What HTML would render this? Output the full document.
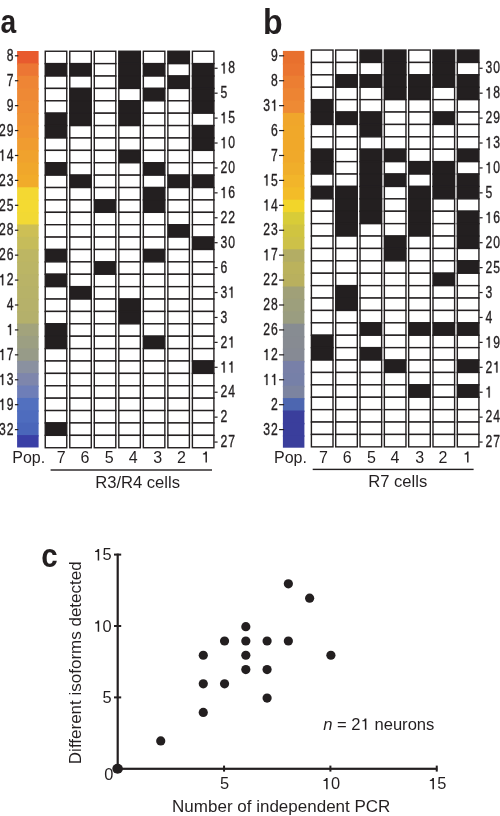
<!DOCTYPE html>
<html><head><meta charset="utf-8"><style>
html,body{margin:0;padding:0;background:#fff;}
body{width:500px;height:816px;overflow:hidden;}
svg{display:block;transform:translateZ(0);}
text{font-family:"Liberation Sans",sans-serif;fill:#231f20;}
.lab{font-size:16px;stroke:#231f20;stroke-width:0.35px;}
.lab2{font-size:16px;}
.lab3{font-size:16.6px;}
.ax{font-size:16.4px;}
.at{font-size:17px;}
.nn{font-size:16.6px;}
.pl{font-size:33.2px;font-weight:bold;}
</style></head><body>
<svg width="500" height="816" viewBox="0 0 500 816">
<text class="pl" transform="translate(0.4,33.4) scale(0.85,1)">a</text>
<text class="pl" style="font-size:34.6px" transform="translate(263.0,33.5) scale(0.93,1)">b</text>
<rect x="17.1" y="51.00" width="21.5" height="13.89" fill="#E85A2E"/>
<rect x="17.1" y="63.39" width="21.5" height="13.89" fill="#EC7634"/>
<rect x="17.1" y="75.78" width="21.5" height="13.89" fill="#EE8535"/>
<rect x="17.1" y="88.17" width="21.5" height="13.89" fill="#EE8935"/>
<rect x="17.1" y="100.56" width="21.5" height="13.89" fill="#EF8D34"/>
<rect x="17.1" y="112.95" width="21.5" height="13.89" fill="#EF9133"/>
<rect x="17.1" y="125.34" width="21.5" height="13.89" fill="#F09532"/>
<rect x="17.1" y="137.73" width="21.5" height="13.89" fill="#F09C30"/>
<rect x="17.1" y="150.12" width="21.5" height="13.89" fill="#F0A22D"/>
<rect x="17.1" y="162.51" width="21.5" height="13.89" fill="#F0A72B"/>
<rect x="17.1" y="174.90" width="21.5" height="13.89" fill="#F1AB2A"/>
<rect x="17.1" y="187.29" width="21.5" height="13.89" fill="#F4D832"/>
<rect x="17.1" y="199.68" width="21.5" height="13.89" fill="#F4DA32"/>
<rect x="17.1" y="212.07" width="21.5" height="13.89" fill="#F2D934"/>
<rect x="17.1" y="224.46" width="21.5" height="13.89" fill="#CDBF55"/>
<rect x="17.1" y="236.85" width="21.5" height="13.89" fill="#C6BC5A"/>
<rect x="17.1" y="249.24" width="21.5" height="13.89" fill="#BDB663"/>
<rect x="17.1" y="261.63" width="21.5" height="13.89" fill="#BBB565"/>
<rect x="17.1" y="274.02" width="21.5" height="13.89" fill="#B9B367"/>
<rect x="17.1" y="286.41" width="21.5" height="13.89" fill="#B7B268"/>
<rect x="17.1" y="298.80" width="21.5" height="13.89" fill="#B6B16A"/>
<rect x="17.1" y="311.19" width="21.5" height="13.89" fill="#B4B06B"/>
<rect x="17.1" y="323.58" width="21.5" height="13.89" fill="#A2A37C"/>
<rect x="17.1" y="335.97" width="21.5" height="13.89" fill="#9C9F82"/>
<rect x="17.1" y="348.36" width="21.5" height="13.89" fill="#979B88"/>
<rect x="17.1" y="360.75" width="21.5" height="13.89" fill="#8A91A0"/>
<rect x="17.1" y="373.14" width="21.5" height="13.89" fill="#7E86AC"/>
<rect x="17.1" y="385.53" width="21.5" height="13.89" fill="#6E7EB8"/>
<rect x="17.1" y="397.92" width="21.5" height="13.89" fill="#5270BF"/>
<rect x="17.1" y="410.31" width="21.5" height="13.89" fill="#4E6CBE"/>
<rect x="17.1" y="422.70" width="21.5" height="13.89" fill="#4A66BA"/>
<rect x="17.1" y="435.09" width="21.5" height="12.39" fill="#3A3FA6"/>
<rect x="14.90" y="55.20" width="3.40" height="1.2" fill="#231f20"/>
<g transform="translate(13.50,61.00) scale(0.76,1)"><text class="lab" x="-8.90" y="0" xml:space="preserve">8</text></g>
<rect x="14.90" y="80.12" width="3.40" height="1.2" fill="#231f20"/>
<g transform="translate(13.50,85.92) scale(0.76,1)"><text class="lab" x="-8.90" y="0" xml:space="preserve">7</text></g>
<rect x="14.90" y="105.04" width="3.40" height="1.2" fill="#231f20"/>
<g transform="translate(13.50,110.84) scale(0.76,1)"><text class="lab" x="-8.90" y="0" xml:space="preserve">9</text></g>
<rect x="14.90" y="129.96" width="3.40" height="1.2" fill="#231f20"/>
<g transform="translate(13.50,135.76) scale(0.76,1)"><text class="lab" x="-19.11" y="0" xml:space="preserve">2</text><text class="lab" x="-8.90" y="0" xml:space="preserve">9</text></g>
<rect x="14.90" y="154.88" width="3.40" height="1.2" fill="#231f20"/>
<g transform="translate(13.50,160.68) scale(0.76,1)"><path d="M 714 0 L 530 0 L 530 1040 L 200 1040 L 200 1160 C 370 1170 490 1250 520 1409 L 714 1409 Z" fill="#231f20" stroke="#231f20" stroke-width="0.35" vector-effect="non-scaling-stroke" transform="translate(-19.113,0) scale(0.007812,-0.007812)"/><text class="lab" x="-8.90" y="0" xml:space="preserve">4</text></g>
<rect x="14.90" y="179.80" width="3.40" height="1.2" fill="#231f20"/>
<g transform="translate(13.50,185.60) scale(0.76,1)"><text class="lab" x="-19.11" y="0" xml:space="preserve">2</text><text class="lab" x="-8.90" y="0" xml:space="preserve">3</text></g>
<rect x="14.90" y="204.72" width="3.40" height="1.2" fill="#231f20"/>
<g transform="translate(13.50,210.52) scale(0.76,1)"><text class="lab" x="-19.11" y="0" xml:space="preserve">2</text><text class="lab" x="-8.90" y="0" xml:space="preserve">5</text></g>
<rect x="14.90" y="229.64" width="3.40" height="1.2" fill="#231f20"/>
<g transform="translate(13.50,235.44) scale(0.76,1)"><text class="lab" x="-19.11" y="0" xml:space="preserve">2</text><text class="lab" x="-8.90" y="0" xml:space="preserve">8</text></g>
<rect x="14.90" y="254.56" width="3.40" height="1.2" fill="#231f20"/>
<g transform="translate(13.50,260.36) scale(0.76,1)"><text class="lab" x="-19.11" y="0" xml:space="preserve">2</text><text class="lab" x="-8.90" y="0" xml:space="preserve">6</text></g>
<rect x="14.90" y="279.48" width="3.40" height="1.2" fill="#231f20"/>
<g transform="translate(13.50,285.28) scale(0.76,1)"><path d="M 714 0 L 530 0 L 530 1040 L 200 1040 L 200 1160 C 370 1170 490 1250 520 1409 L 714 1409 Z" fill="#231f20" stroke="#231f20" stroke-width="0.35" vector-effect="non-scaling-stroke" transform="translate(-19.113,0) scale(0.007812,-0.007812)"/><text class="lab" x="-8.90" y="0" xml:space="preserve">2</text></g>
<rect x="14.90" y="304.40" width="3.40" height="1.2" fill="#231f20"/>
<g transform="translate(13.50,310.20) scale(0.76,1)"><text class="lab" x="-8.90" y="0" xml:space="preserve">4</text></g>
<rect x="14.90" y="329.32" width="3.40" height="1.2" fill="#231f20"/>
<g transform="translate(13.50,335.12) scale(0.76,1)"><path d="M 714 0 L 530 0 L 530 1040 L 200 1040 L 200 1160 C 370 1170 490 1250 520 1409 L 714 1409 Z" fill="#231f20" stroke="#231f20" stroke-width="0.35" vector-effect="non-scaling-stroke" transform="translate(-8.898,0) scale(0.007812,-0.007812)"/></g>
<rect x="14.90" y="354.24" width="3.40" height="1.2" fill="#231f20"/>
<g transform="translate(13.50,360.04) scale(0.76,1)"><path d="M 714 0 L 530 0 L 530 1040 L 200 1040 L 200 1160 C 370 1170 490 1250 520 1409 L 714 1409 Z" fill="#231f20" stroke="#231f20" stroke-width="0.35" vector-effect="non-scaling-stroke" transform="translate(-19.113,0) scale(0.007812,-0.007812)"/><text class="lab" x="-8.90" y="0" xml:space="preserve">7</text></g>
<rect x="14.90" y="379.16" width="3.40" height="1.2" fill="#231f20"/>
<g transform="translate(13.50,384.96) scale(0.76,1)"><path d="M 714 0 L 530 0 L 530 1040 L 200 1040 L 200 1160 C 370 1170 490 1250 520 1409 L 714 1409 Z" fill="#231f20" stroke="#231f20" stroke-width="0.35" vector-effect="non-scaling-stroke" transform="translate(-19.113,0) scale(0.007812,-0.007812)"/><text class="lab" x="-8.90" y="0" xml:space="preserve">3</text></g>
<rect x="14.90" y="404.08" width="3.40" height="1.2" fill="#231f20"/>
<g transform="translate(13.50,409.88) scale(0.76,1)"><path d="M 714 0 L 530 0 L 530 1040 L 200 1040 L 200 1160 C 370 1170 490 1250 520 1409 L 714 1409 Z" fill="#231f20" stroke="#231f20" stroke-width="0.35" vector-effect="non-scaling-stroke" transform="translate(-19.113,0) scale(0.007812,-0.007812)"/><text class="lab" x="-8.90" y="0" xml:space="preserve">9</text></g>
<rect x="14.90" y="429.00" width="3.40" height="1.2" fill="#231f20"/>
<g transform="translate(13.50,434.80) scale(0.76,1)"><text class="lab" x="-19.11" y="0" xml:space="preserve">3</text><text class="lab" x="-8.90" y="0" xml:space="preserve">2</text></g>
<rect x="45.25" y="51.25" width="21.50" height="12.390" fill="#fff" stroke="#231f20" stroke-width="1.4"/>
<rect x="45.25" y="63.64" width="21.50" height="12.390" fill="#231f20" stroke="#231f20" stroke-width="1.4"/>
<rect x="45.25" y="76.03" width="21.50" height="12.390" fill="#fff" stroke="#231f20" stroke-width="1.4"/>
<rect x="45.25" y="88.42" width="21.50" height="12.390" fill="#fff" stroke="#231f20" stroke-width="1.4"/>
<rect x="45.25" y="100.81" width="21.50" height="12.390" fill="#fff" stroke="#231f20" stroke-width="1.4"/>
<rect x="45.25" y="113.20" width="21.50" height="12.390" fill="#231f20" stroke="#231f20" stroke-width="1.4"/>
<rect x="45.25" y="125.59" width="21.50" height="12.390" fill="#231f20" stroke="#231f20" stroke-width="1.4"/>
<rect x="45.25" y="137.98" width="21.50" height="12.390" fill="#fff" stroke="#231f20" stroke-width="1.4"/>
<rect x="45.25" y="150.37" width="21.50" height="12.390" fill="#fff" stroke="#231f20" stroke-width="1.4"/>
<rect x="45.25" y="162.76" width="21.50" height="12.390" fill="#231f20" stroke="#231f20" stroke-width="1.4"/>
<rect x="45.25" y="175.15" width="21.50" height="12.390" fill="#fff" stroke="#231f20" stroke-width="1.4"/>
<rect x="45.25" y="187.54" width="21.50" height="12.390" fill="#fff" stroke="#231f20" stroke-width="1.4"/>
<rect x="45.25" y="199.93" width="21.50" height="12.390" fill="#fff" stroke="#231f20" stroke-width="1.4"/>
<rect x="45.25" y="212.32" width="21.50" height="12.390" fill="#fff" stroke="#231f20" stroke-width="1.4"/>
<rect x="45.25" y="224.71" width="21.50" height="12.390" fill="#fff" stroke="#231f20" stroke-width="1.4"/>
<rect x="45.25" y="237.10" width="21.50" height="12.390" fill="#fff" stroke="#231f20" stroke-width="1.4"/>
<rect x="45.25" y="249.49" width="21.50" height="12.390" fill="#231f20" stroke="#231f20" stroke-width="1.4"/>
<rect x="45.25" y="261.88" width="21.50" height="12.390" fill="#fff" stroke="#231f20" stroke-width="1.4"/>
<rect x="45.25" y="274.27" width="21.50" height="12.390" fill="#231f20" stroke="#231f20" stroke-width="1.4"/>
<rect x="45.25" y="286.66" width="21.50" height="12.390" fill="#fff" stroke="#231f20" stroke-width="1.4"/>
<rect x="45.25" y="299.05" width="21.50" height="12.390" fill="#fff" stroke="#231f20" stroke-width="1.4"/>
<rect x="45.25" y="311.44" width="21.50" height="12.390" fill="#fff" stroke="#231f20" stroke-width="1.4"/>
<rect x="45.25" y="323.83" width="21.50" height="12.390" fill="#231f20" stroke="#231f20" stroke-width="1.4"/>
<rect x="45.25" y="336.22" width="21.50" height="12.390" fill="#231f20" stroke="#231f20" stroke-width="1.4"/>
<rect x="45.25" y="348.61" width="21.50" height="12.390" fill="#fff" stroke="#231f20" stroke-width="1.4"/>
<rect x="45.25" y="361.00" width="21.50" height="12.390" fill="#fff" stroke="#231f20" stroke-width="1.4"/>
<rect x="45.25" y="373.39" width="21.50" height="12.390" fill="#fff" stroke="#231f20" stroke-width="1.4"/>
<rect x="45.25" y="385.78" width="21.50" height="12.390" fill="#fff" stroke="#231f20" stroke-width="1.4"/>
<rect x="45.25" y="398.17" width="21.50" height="12.390" fill="#fff" stroke="#231f20" stroke-width="1.4"/>
<rect x="45.25" y="410.56" width="21.50" height="12.390" fill="#fff" stroke="#231f20" stroke-width="1.4"/>
<rect x="45.25" y="422.95" width="21.50" height="12.390" fill="#231f20" stroke="#231f20" stroke-width="1.4"/>
<rect x="45.25" y="435.34" width="21.50" height="12.390" fill="#fff" stroke="#231f20" stroke-width="1.4"/>
<rect x="69.78" y="51.25" width="21.50" height="12.390" fill="#fff" stroke="#231f20" stroke-width="1.4"/>
<rect x="69.78" y="63.64" width="21.50" height="12.390" fill="#231f20" stroke="#231f20" stroke-width="1.4"/>
<rect x="69.78" y="76.03" width="21.50" height="12.390" fill="#fff" stroke="#231f20" stroke-width="1.4"/>
<rect x="69.78" y="88.42" width="21.50" height="12.390" fill="#231f20" stroke="#231f20" stroke-width="1.4"/>
<rect x="69.78" y="100.81" width="21.50" height="12.390" fill="#231f20" stroke="#231f20" stroke-width="1.4"/>
<rect x="69.78" y="113.20" width="21.50" height="12.390" fill="#231f20" stroke="#231f20" stroke-width="1.4"/>
<rect x="69.78" y="125.59" width="21.50" height="12.390" fill="#fff" stroke="#231f20" stroke-width="1.4"/>
<rect x="69.78" y="137.98" width="21.50" height="12.390" fill="#fff" stroke="#231f20" stroke-width="1.4"/>
<rect x="69.78" y="150.37" width="21.50" height="12.390" fill="#fff" stroke="#231f20" stroke-width="1.4"/>
<rect x="69.78" y="162.76" width="21.50" height="12.390" fill="#fff" stroke="#231f20" stroke-width="1.4"/>
<rect x="69.78" y="175.15" width="21.50" height="12.390" fill="#231f20" stroke="#231f20" stroke-width="1.4"/>
<rect x="69.78" y="187.54" width="21.50" height="12.390" fill="#fff" stroke="#231f20" stroke-width="1.4"/>
<rect x="69.78" y="199.93" width="21.50" height="12.390" fill="#fff" stroke="#231f20" stroke-width="1.4"/>
<rect x="69.78" y="212.32" width="21.50" height="12.390" fill="#fff" stroke="#231f20" stroke-width="1.4"/>
<rect x="69.78" y="224.71" width="21.50" height="12.390" fill="#fff" stroke="#231f20" stroke-width="1.4"/>
<rect x="69.78" y="237.10" width="21.50" height="12.390" fill="#fff" stroke="#231f20" stroke-width="1.4"/>
<rect x="69.78" y="249.49" width="21.50" height="12.390" fill="#fff" stroke="#231f20" stroke-width="1.4"/>
<rect x="69.78" y="261.88" width="21.50" height="12.390" fill="#fff" stroke="#231f20" stroke-width="1.4"/>
<rect x="69.78" y="274.27" width="21.50" height="12.390" fill="#fff" stroke="#231f20" stroke-width="1.4"/>
<rect x="69.78" y="286.66" width="21.50" height="12.390" fill="#231f20" stroke="#231f20" stroke-width="1.4"/>
<rect x="69.78" y="299.05" width="21.50" height="12.390" fill="#fff" stroke="#231f20" stroke-width="1.4"/>
<rect x="69.78" y="311.44" width="21.50" height="12.390" fill="#fff" stroke="#231f20" stroke-width="1.4"/>
<rect x="69.78" y="323.83" width="21.50" height="12.390" fill="#fff" stroke="#231f20" stroke-width="1.4"/>
<rect x="69.78" y="336.22" width="21.50" height="12.390" fill="#fff" stroke="#231f20" stroke-width="1.4"/>
<rect x="69.78" y="348.61" width="21.50" height="12.390" fill="#fff" stroke="#231f20" stroke-width="1.4"/>
<rect x="69.78" y="361.00" width="21.50" height="12.390" fill="#fff" stroke="#231f20" stroke-width="1.4"/>
<rect x="69.78" y="373.39" width="21.50" height="12.390" fill="#fff" stroke="#231f20" stroke-width="1.4"/>
<rect x="69.78" y="385.78" width="21.50" height="12.390" fill="#fff" stroke="#231f20" stroke-width="1.4"/>
<rect x="69.78" y="398.17" width="21.50" height="12.390" fill="#fff" stroke="#231f20" stroke-width="1.4"/>
<rect x="69.78" y="410.56" width="21.50" height="12.390" fill="#fff" stroke="#231f20" stroke-width="1.4"/>
<rect x="69.78" y="422.95" width="21.50" height="12.390" fill="#fff" stroke="#231f20" stroke-width="1.4"/>
<rect x="69.78" y="435.34" width="21.50" height="12.390" fill="#fff" stroke="#231f20" stroke-width="1.4"/>
<rect x="94.30" y="51.25" width="21.50" height="12.390" fill="#fff" stroke="#231f20" stroke-width="1.4"/>
<rect x="94.30" y="63.64" width="21.50" height="12.390" fill="#fff" stroke="#231f20" stroke-width="1.4"/>
<rect x="94.30" y="76.03" width="21.50" height="12.390" fill="#fff" stroke="#231f20" stroke-width="1.4"/>
<rect x="94.30" y="88.42" width="21.50" height="12.390" fill="#fff" stroke="#231f20" stroke-width="1.4"/>
<rect x="94.30" y="100.81" width="21.50" height="12.390" fill="#fff" stroke="#231f20" stroke-width="1.4"/>
<rect x="94.30" y="113.20" width="21.50" height="12.390" fill="#fff" stroke="#231f20" stroke-width="1.4"/>
<rect x="94.30" y="125.59" width="21.50" height="12.390" fill="#fff" stroke="#231f20" stroke-width="1.4"/>
<rect x="94.30" y="137.98" width="21.50" height="12.390" fill="#fff" stroke="#231f20" stroke-width="1.4"/>
<rect x="94.30" y="150.37" width="21.50" height="12.390" fill="#fff" stroke="#231f20" stroke-width="1.4"/>
<rect x="94.30" y="162.76" width="21.50" height="12.390" fill="#fff" stroke="#231f20" stroke-width="1.4"/>
<rect x="94.30" y="175.15" width="21.50" height="12.390" fill="#fff" stroke="#231f20" stroke-width="1.4"/>
<rect x="94.30" y="187.54" width="21.50" height="12.390" fill="#fff" stroke="#231f20" stroke-width="1.4"/>
<rect x="94.30" y="199.93" width="21.50" height="12.390" fill="#231f20" stroke="#231f20" stroke-width="1.4"/>
<rect x="94.30" y="212.32" width="21.50" height="12.390" fill="#fff" stroke="#231f20" stroke-width="1.4"/>
<rect x="94.30" y="224.71" width="21.50" height="12.390" fill="#fff" stroke="#231f20" stroke-width="1.4"/>
<rect x="94.30" y="237.10" width="21.50" height="12.390" fill="#fff" stroke="#231f20" stroke-width="1.4"/>
<rect x="94.30" y="249.49" width="21.50" height="12.390" fill="#fff" stroke="#231f20" stroke-width="1.4"/>
<rect x="94.30" y="261.88" width="21.50" height="12.390" fill="#231f20" stroke="#231f20" stroke-width="1.4"/>
<rect x="94.30" y="274.27" width="21.50" height="12.390" fill="#fff" stroke="#231f20" stroke-width="1.4"/>
<rect x="94.30" y="286.66" width="21.50" height="12.390" fill="#fff" stroke="#231f20" stroke-width="1.4"/>
<rect x="94.30" y="299.05" width="21.50" height="12.390" fill="#fff" stroke="#231f20" stroke-width="1.4"/>
<rect x="94.30" y="311.44" width="21.50" height="12.390" fill="#fff" stroke="#231f20" stroke-width="1.4"/>
<rect x="94.30" y="323.83" width="21.50" height="12.390" fill="#fff" stroke="#231f20" stroke-width="1.4"/>
<rect x="94.30" y="336.22" width="21.50" height="12.390" fill="#fff" stroke="#231f20" stroke-width="1.4"/>
<rect x="94.30" y="348.61" width="21.50" height="12.390" fill="#fff" stroke="#231f20" stroke-width="1.4"/>
<rect x="94.30" y="361.00" width="21.50" height="12.390" fill="#fff" stroke="#231f20" stroke-width="1.4"/>
<rect x="94.30" y="373.39" width="21.50" height="12.390" fill="#fff" stroke="#231f20" stroke-width="1.4"/>
<rect x="94.30" y="385.78" width="21.50" height="12.390" fill="#fff" stroke="#231f20" stroke-width="1.4"/>
<rect x="94.30" y="398.17" width="21.50" height="12.390" fill="#fff" stroke="#231f20" stroke-width="1.4"/>
<rect x="94.30" y="410.56" width="21.50" height="12.390" fill="#fff" stroke="#231f20" stroke-width="1.4"/>
<rect x="94.30" y="422.95" width="21.50" height="12.390" fill="#fff" stroke="#231f20" stroke-width="1.4"/>
<rect x="94.30" y="435.34" width="21.50" height="12.390" fill="#fff" stroke="#231f20" stroke-width="1.4"/>
<rect x="118.82" y="51.25" width="21.50" height="12.390" fill="#231f20" stroke="#231f20" stroke-width="1.4"/>
<rect x="118.82" y="63.64" width="21.50" height="12.390" fill="#231f20" stroke="#231f20" stroke-width="1.4"/>
<rect x="118.82" y="76.03" width="21.50" height="12.390" fill="#231f20" stroke="#231f20" stroke-width="1.4"/>
<rect x="118.82" y="88.42" width="21.50" height="12.390" fill="#fff" stroke="#231f20" stroke-width="1.4"/>
<rect x="118.82" y="100.81" width="21.50" height="12.390" fill="#231f20" stroke="#231f20" stroke-width="1.4"/>
<rect x="118.82" y="113.20" width="21.50" height="12.390" fill="#231f20" stroke="#231f20" stroke-width="1.4"/>
<rect x="118.82" y="125.59" width="21.50" height="12.390" fill="#fff" stroke="#231f20" stroke-width="1.4"/>
<rect x="118.82" y="137.98" width="21.50" height="12.390" fill="#fff" stroke="#231f20" stroke-width="1.4"/>
<rect x="118.82" y="150.37" width="21.50" height="12.390" fill="#231f20" stroke="#231f20" stroke-width="1.4"/>
<rect x="118.82" y="162.76" width="21.50" height="12.390" fill="#fff" stroke="#231f20" stroke-width="1.4"/>
<rect x="118.82" y="175.15" width="21.50" height="12.390" fill="#fff" stroke="#231f20" stroke-width="1.4"/>
<rect x="118.82" y="187.54" width="21.50" height="12.390" fill="#fff" stroke="#231f20" stroke-width="1.4"/>
<rect x="118.82" y="199.93" width="21.50" height="12.390" fill="#fff" stroke="#231f20" stroke-width="1.4"/>
<rect x="118.82" y="212.32" width="21.50" height="12.390" fill="#fff" stroke="#231f20" stroke-width="1.4"/>
<rect x="118.82" y="224.71" width="21.50" height="12.390" fill="#fff" stroke="#231f20" stroke-width="1.4"/>
<rect x="118.82" y="237.10" width="21.50" height="12.390" fill="#fff" stroke="#231f20" stroke-width="1.4"/>
<rect x="118.82" y="249.49" width="21.50" height="12.390" fill="#fff" stroke="#231f20" stroke-width="1.4"/>
<rect x="118.82" y="261.88" width="21.50" height="12.390" fill="#fff" stroke="#231f20" stroke-width="1.4"/>
<rect x="118.82" y="274.27" width="21.50" height="12.390" fill="#fff" stroke="#231f20" stroke-width="1.4"/>
<rect x="118.82" y="286.66" width="21.50" height="12.390" fill="#fff" stroke="#231f20" stroke-width="1.4"/>
<rect x="118.82" y="299.05" width="21.50" height="12.390" fill="#231f20" stroke="#231f20" stroke-width="1.4"/>
<rect x="118.82" y="311.44" width="21.50" height="12.390" fill="#231f20" stroke="#231f20" stroke-width="1.4"/>
<rect x="118.82" y="323.83" width="21.50" height="12.390" fill="#fff" stroke="#231f20" stroke-width="1.4"/>
<rect x="118.82" y="336.22" width="21.50" height="12.390" fill="#fff" stroke="#231f20" stroke-width="1.4"/>
<rect x="118.82" y="348.61" width="21.50" height="12.390" fill="#fff" stroke="#231f20" stroke-width="1.4"/>
<rect x="118.82" y="361.00" width="21.50" height="12.390" fill="#fff" stroke="#231f20" stroke-width="1.4"/>
<rect x="118.82" y="373.39" width="21.50" height="12.390" fill="#fff" stroke="#231f20" stroke-width="1.4"/>
<rect x="118.82" y="385.78" width="21.50" height="12.390" fill="#fff" stroke="#231f20" stroke-width="1.4"/>
<rect x="118.82" y="398.17" width="21.50" height="12.390" fill="#fff" stroke="#231f20" stroke-width="1.4"/>
<rect x="118.82" y="410.56" width="21.50" height="12.390" fill="#fff" stroke="#231f20" stroke-width="1.4"/>
<rect x="118.82" y="422.95" width="21.50" height="12.390" fill="#fff" stroke="#231f20" stroke-width="1.4"/>
<rect x="118.82" y="435.34" width="21.50" height="12.390" fill="#fff" stroke="#231f20" stroke-width="1.4"/>
<rect x="143.35" y="51.25" width="21.50" height="12.390" fill="#fff" stroke="#231f20" stroke-width="1.4"/>
<rect x="143.35" y="63.64" width="21.50" height="12.390" fill="#231f20" stroke="#231f20" stroke-width="1.4"/>
<rect x="143.35" y="76.03" width="21.50" height="12.390" fill="#fff" stroke="#231f20" stroke-width="1.4"/>
<rect x="143.35" y="88.42" width="21.50" height="12.390" fill="#231f20" stroke="#231f20" stroke-width="1.4"/>
<rect x="143.35" y="100.81" width="21.50" height="12.390" fill="#fff" stroke="#231f20" stroke-width="1.4"/>
<rect x="143.35" y="113.20" width="21.50" height="12.390" fill="#fff" stroke="#231f20" stroke-width="1.4"/>
<rect x="143.35" y="125.59" width="21.50" height="12.390" fill="#fff" stroke="#231f20" stroke-width="1.4"/>
<rect x="143.35" y="137.98" width="21.50" height="12.390" fill="#fff" stroke="#231f20" stroke-width="1.4"/>
<rect x="143.35" y="150.37" width="21.50" height="12.390" fill="#fff" stroke="#231f20" stroke-width="1.4"/>
<rect x="143.35" y="162.76" width="21.50" height="12.390" fill="#231f20" stroke="#231f20" stroke-width="1.4"/>
<rect x="143.35" y="175.15" width="21.50" height="12.390" fill="#fff" stroke="#231f20" stroke-width="1.4"/>
<rect x="143.35" y="187.54" width="21.50" height="12.390" fill="#231f20" stroke="#231f20" stroke-width="1.4"/>
<rect x="143.35" y="199.93" width="21.50" height="12.390" fill="#231f20" stroke="#231f20" stroke-width="1.4"/>
<rect x="143.35" y="212.32" width="21.50" height="12.390" fill="#fff" stroke="#231f20" stroke-width="1.4"/>
<rect x="143.35" y="224.71" width="21.50" height="12.390" fill="#fff" stroke="#231f20" stroke-width="1.4"/>
<rect x="143.35" y="237.10" width="21.50" height="12.390" fill="#fff" stroke="#231f20" stroke-width="1.4"/>
<rect x="143.35" y="249.49" width="21.50" height="12.390" fill="#231f20" stroke="#231f20" stroke-width="1.4"/>
<rect x="143.35" y="261.88" width="21.50" height="12.390" fill="#fff" stroke="#231f20" stroke-width="1.4"/>
<rect x="143.35" y="274.27" width="21.50" height="12.390" fill="#fff" stroke="#231f20" stroke-width="1.4"/>
<rect x="143.35" y="286.66" width="21.50" height="12.390" fill="#fff" stroke="#231f20" stroke-width="1.4"/>
<rect x="143.35" y="299.05" width="21.50" height="12.390" fill="#fff" stroke="#231f20" stroke-width="1.4"/>
<rect x="143.35" y="311.44" width="21.50" height="12.390" fill="#fff" stroke="#231f20" stroke-width="1.4"/>
<rect x="143.35" y="323.83" width="21.50" height="12.390" fill="#fff" stroke="#231f20" stroke-width="1.4"/>
<rect x="143.35" y="336.22" width="21.50" height="12.390" fill="#231f20" stroke="#231f20" stroke-width="1.4"/>
<rect x="143.35" y="348.61" width="21.50" height="12.390" fill="#fff" stroke="#231f20" stroke-width="1.4"/>
<rect x="143.35" y="361.00" width="21.50" height="12.390" fill="#fff" stroke="#231f20" stroke-width="1.4"/>
<rect x="143.35" y="373.39" width="21.50" height="12.390" fill="#fff" stroke="#231f20" stroke-width="1.4"/>
<rect x="143.35" y="385.78" width="21.50" height="12.390" fill="#fff" stroke="#231f20" stroke-width="1.4"/>
<rect x="143.35" y="398.17" width="21.50" height="12.390" fill="#fff" stroke="#231f20" stroke-width="1.4"/>
<rect x="143.35" y="410.56" width="21.50" height="12.390" fill="#fff" stroke="#231f20" stroke-width="1.4"/>
<rect x="143.35" y="422.95" width="21.50" height="12.390" fill="#fff" stroke="#231f20" stroke-width="1.4"/>
<rect x="143.35" y="435.34" width="21.50" height="12.390" fill="#fff" stroke="#231f20" stroke-width="1.4"/>
<rect x="167.88" y="51.25" width="21.50" height="12.390" fill="#231f20" stroke="#231f20" stroke-width="1.4"/>
<rect x="167.88" y="63.64" width="21.50" height="12.390" fill="#fff" stroke="#231f20" stroke-width="1.4"/>
<rect x="167.88" y="76.03" width="21.50" height="12.390" fill="#231f20" stroke="#231f20" stroke-width="1.4"/>
<rect x="167.88" y="88.42" width="21.50" height="12.390" fill="#fff" stroke="#231f20" stroke-width="1.4"/>
<rect x="167.88" y="100.81" width="21.50" height="12.390" fill="#fff" stroke="#231f20" stroke-width="1.4"/>
<rect x="167.88" y="113.20" width="21.50" height="12.390" fill="#fff" stroke="#231f20" stroke-width="1.4"/>
<rect x="167.88" y="125.59" width="21.50" height="12.390" fill="#fff" stroke="#231f20" stroke-width="1.4"/>
<rect x="167.88" y="137.98" width="21.50" height="12.390" fill="#fff" stroke="#231f20" stroke-width="1.4"/>
<rect x="167.88" y="150.37" width="21.50" height="12.390" fill="#fff" stroke="#231f20" stroke-width="1.4"/>
<rect x="167.88" y="162.76" width="21.50" height="12.390" fill="#fff" stroke="#231f20" stroke-width="1.4"/>
<rect x="167.88" y="175.15" width="21.50" height="12.390" fill="#231f20" stroke="#231f20" stroke-width="1.4"/>
<rect x="167.88" y="187.54" width="21.50" height="12.390" fill="#fff" stroke="#231f20" stroke-width="1.4"/>
<rect x="167.88" y="199.93" width="21.50" height="12.390" fill="#fff" stroke="#231f20" stroke-width="1.4"/>
<rect x="167.88" y="212.32" width="21.50" height="12.390" fill="#fff" stroke="#231f20" stroke-width="1.4"/>
<rect x="167.88" y="224.71" width="21.50" height="12.390" fill="#231f20" stroke="#231f20" stroke-width="1.4"/>
<rect x="167.88" y="237.10" width="21.50" height="12.390" fill="#fff" stroke="#231f20" stroke-width="1.4"/>
<rect x="167.88" y="249.49" width="21.50" height="12.390" fill="#fff" stroke="#231f20" stroke-width="1.4"/>
<rect x="167.88" y="261.88" width="21.50" height="12.390" fill="#fff" stroke="#231f20" stroke-width="1.4"/>
<rect x="167.88" y="274.27" width="21.50" height="12.390" fill="#fff" stroke="#231f20" stroke-width="1.4"/>
<rect x="167.88" y="286.66" width="21.50" height="12.390" fill="#fff" stroke="#231f20" stroke-width="1.4"/>
<rect x="167.88" y="299.05" width="21.50" height="12.390" fill="#fff" stroke="#231f20" stroke-width="1.4"/>
<rect x="167.88" y="311.44" width="21.50" height="12.390" fill="#fff" stroke="#231f20" stroke-width="1.4"/>
<rect x="167.88" y="323.83" width="21.50" height="12.390" fill="#fff" stroke="#231f20" stroke-width="1.4"/>
<rect x="167.88" y="336.22" width="21.50" height="12.390" fill="#fff" stroke="#231f20" stroke-width="1.4"/>
<rect x="167.88" y="348.61" width="21.50" height="12.390" fill="#fff" stroke="#231f20" stroke-width="1.4"/>
<rect x="167.88" y="361.00" width="21.50" height="12.390" fill="#fff" stroke="#231f20" stroke-width="1.4"/>
<rect x="167.88" y="373.39" width="21.50" height="12.390" fill="#fff" stroke="#231f20" stroke-width="1.4"/>
<rect x="167.88" y="385.78" width="21.50" height="12.390" fill="#fff" stroke="#231f20" stroke-width="1.4"/>
<rect x="167.88" y="398.17" width="21.50" height="12.390" fill="#fff" stroke="#231f20" stroke-width="1.4"/>
<rect x="167.88" y="410.56" width="21.50" height="12.390" fill="#fff" stroke="#231f20" stroke-width="1.4"/>
<rect x="167.88" y="422.95" width="21.50" height="12.390" fill="#fff" stroke="#231f20" stroke-width="1.4"/>
<rect x="167.88" y="435.34" width="21.50" height="12.390" fill="#fff" stroke="#231f20" stroke-width="1.4"/>
<rect x="192.40" y="51.25" width="21.50" height="12.390" fill="#fff" stroke="#231f20" stroke-width="1.4"/>
<rect x="192.40" y="63.64" width="21.50" height="12.390" fill="#231f20" stroke="#231f20" stroke-width="1.4"/>
<rect x="192.40" y="76.03" width="21.50" height="12.390" fill="#231f20" stroke="#231f20" stroke-width="1.4"/>
<rect x="192.40" y="88.42" width="21.50" height="12.390" fill="#231f20" stroke="#231f20" stroke-width="1.4"/>
<rect x="192.40" y="100.81" width="21.50" height="12.390" fill="#231f20" stroke="#231f20" stroke-width="1.4"/>
<rect x="192.40" y="113.20" width="21.50" height="12.390" fill="#fff" stroke="#231f20" stroke-width="1.4"/>
<rect x="192.40" y="125.59" width="21.50" height="12.390" fill="#231f20" stroke="#231f20" stroke-width="1.4"/>
<rect x="192.40" y="137.98" width="21.50" height="12.390" fill="#231f20" stroke="#231f20" stroke-width="1.4"/>
<rect x="192.40" y="150.37" width="21.50" height="12.390" fill="#fff" stroke="#231f20" stroke-width="1.4"/>
<rect x="192.40" y="162.76" width="21.50" height="12.390" fill="#fff" stroke="#231f20" stroke-width="1.4"/>
<rect x="192.40" y="175.15" width="21.50" height="12.390" fill="#231f20" stroke="#231f20" stroke-width="1.4"/>
<rect x="192.40" y="187.54" width="21.50" height="12.390" fill="#fff" stroke="#231f20" stroke-width="1.4"/>
<rect x="192.40" y="199.93" width="21.50" height="12.390" fill="#fff" stroke="#231f20" stroke-width="1.4"/>
<rect x="192.40" y="212.32" width="21.50" height="12.390" fill="#fff" stroke="#231f20" stroke-width="1.4"/>
<rect x="192.40" y="224.71" width="21.50" height="12.390" fill="#fff" stroke="#231f20" stroke-width="1.4"/>
<rect x="192.40" y="237.10" width="21.50" height="12.390" fill="#231f20" stroke="#231f20" stroke-width="1.4"/>
<rect x="192.40" y="249.49" width="21.50" height="12.390" fill="#fff" stroke="#231f20" stroke-width="1.4"/>
<rect x="192.40" y="261.88" width="21.50" height="12.390" fill="#fff" stroke="#231f20" stroke-width="1.4"/>
<rect x="192.40" y="274.27" width="21.50" height="12.390" fill="#fff" stroke="#231f20" stroke-width="1.4"/>
<rect x="192.40" y="286.66" width="21.50" height="12.390" fill="#fff" stroke="#231f20" stroke-width="1.4"/>
<rect x="192.40" y="299.05" width="21.50" height="12.390" fill="#fff" stroke="#231f20" stroke-width="1.4"/>
<rect x="192.40" y="311.44" width="21.50" height="12.390" fill="#fff" stroke="#231f20" stroke-width="1.4"/>
<rect x="192.40" y="323.83" width="21.50" height="12.390" fill="#fff" stroke="#231f20" stroke-width="1.4"/>
<rect x="192.40" y="336.22" width="21.50" height="12.390" fill="#fff" stroke="#231f20" stroke-width="1.4"/>
<rect x="192.40" y="348.61" width="21.50" height="12.390" fill="#fff" stroke="#231f20" stroke-width="1.4"/>
<rect x="192.40" y="361.00" width="21.50" height="12.390" fill="#231f20" stroke="#231f20" stroke-width="1.4"/>
<rect x="192.40" y="373.39" width="21.50" height="12.390" fill="#fff" stroke="#231f20" stroke-width="1.4"/>
<rect x="192.40" y="385.78" width="21.50" height="12.390" fill="#fff" stroke="#231f20" stroke-width="1.4"/>
<rect x="192.40" y="398.17" width="21.50" height="12.390" fill="#fff" stroke="#231f20" stroke-width="1.4"/>
<rect x="192.40" y="410.56" width="21.50" height="12.390" fill="#fff" stroke="#231f20" stroke-width="1.4"/>
<rect x="192.40" y="422.95" width="21.50" height="12.390" fill="#fff" stroke="#231f20" stroke-width="1.4"/>
<rect x="192.40" y="435.34" width="21.50" height="12.390" fill="#fff" stroke="#231f20" stroke-width="1.4"/>
<rect x="214.30" y="67.66" width="3.3" height="1.2" fill="#231f20"/>
<g transform="translate(220.40,73.46) scale(0.76,1)"><path d="M 714 0 L 530 0 L 530 1040 L 200 1040 L 200 1160 C 370 1170 490 1250 520 1409 L 714 1409 Z" fill="#231f20" stroke="#231f20" stroke-width="0.35" vector-effect="non-scaling-stroke" transform="translate(0.000,0) scale(0.007812,-0.007812)"/><text class="lab" x="10.21" y="0" xml:space="preserve">8</text></g>
<rect x="214.30" y="92.58" width="3.3" height="1.2" fill="#231f20"/>
<g transform="translate(220.40,98.38) scale(0.76,1)"><text class="lab" x="0.00" y="0" xml:space="preserve">5</text></g>
<rect x="214.30" y="117.50" width="3.3" height="1.2" fill="#231f20"/>
<g transform="translate(220.40,123.30) scale(0.76,1)"><path d="M 714 0 L 530 0 L 530 1040 L 200 1040 L 200 1160 C 370 1170 490 1250 520 1409 L 714 1409 Z" fill="#231f20" stroke="#231f20" stroke-width="0.35" vector-effect="non-scaling-stroke" transform="translate(0.000,0) scale(0.007812,-0.007812)"/><text class="lab" x="10.21" y="0" xml:space="preserve">5</text></g>
<rect x="214.30" y="142.42" width="3.3" height="1.2" fill="#231f20"/>
<g transform="translate(220.40,148.22) scale(0.76,1)"><path d="M 714 0 L 530 0 L 530 1040 L 200 1040 L 200 1160 C 370 1170 490 1250 520 1409 L 714 1409 Z" fill="#231f20" stroke="#231f20" stroke-width="0.35" vector-effect="non-scaling-stroke" transform="translate(0.000,0) scale(0.007812,-0.007812)"/><text class="lab" x="10.21" y="0" xml:space="preserve">0</text></g>
<rect x="214.30" y="167.34" width="3.3" height="1.2" fill="#231f20"/>
<g transform="translate(220.40,173.14) scale(0.76,1)"><text class="lab" x="0.00" y="0" xml:space="preserve">2</text><text class="lab" x="10.21" y="0" xml:space="preserve">0</text></g>
<rect x="214.30" y="192.26" width="3.3" height="1.2" fill="#231f20"/>
<g transform="translate(220.40,198.06) scale(0.76,1)"><path d="M 714 0 L 530 0 L 530 1040 L 200 1040 L 200 1160 C 370 1170 490 1250 520 1409 L 714 1409 Z" fill="#231f20" stroke="#231f20" stroke-width="0.35" vector-effect="non-scaling-stroke" transform="translate(0.000,0) scale(0.007812,-0.007812)"/><text class="lab" x="10.21" y="0" xml:space="preserve">6</text></g>
<rect x="214.30" y="217.18" width="3.3" height="1.2" fill="#231f20"/>
<g transform="translate(220.40,222.98) scale(0.76,1)"><text class="lab" x="0.00" y="0" xml:space="preserve">2</text><text class="lab" x="10.21" y="0" xml:space="preserve">2</text></g>
<rect x="214.30" y="242.10" width="3.3" height="1.2" fill="#231f20"/>
<g transform="translate(220.40,247.90) scale(0.76,1)"><text class="lab" x="0.00" y="0" xml:space="preserve">3</text><text class="lab" x="10.21" y="0" xml:space="preserve">0</text></g>
<rect x="214.30" y="267.02" width="3.3" height="1.2" fill="#231f20"/>
<g transform="translate(220.40,272.82) scale(0.76,1)"><text class="lab" x="0.00" y="0" xml:space="preserve">6</text></g>
<rect x="214.30" y="291.94" width="3.3" height="1.2" fill="#231f20"/>
<g transform="translate(220.40,297.74) scale(0.76,1)"><text class="lab" x="0.00" y="0" xml:space="preserve">3</text><path d="M 714 0 L 530 0 L 530 1040 L 200 1040 L 200 1160 C 370 1170 490 1250 520 1409 L 714 1409 Z" fill="#231f20" stroke="#231f20" stroke-width="0.35" vector-effect="non-scaling-stroke" transform="translate(10.214,0) scale(0.007812,-0.007812)"/></g>
<rect x="214.30" y="316.86" width="3.3" height="1.2" fill="#231f20"/>
<g transform="translate(220.40,322.66) scale(0.76,1)"><text class="lab" x="0.00" y="0" xml:space="preserve">3</text></g>
<rect x="214.30" y="341.78" width="3.3" height="1.2" fill="#231f20"/>
<g transform="translate(220.40,347.58) scale(0.76,1)"><text class="lab" x="0.00" y="0" xml:space="preserve">2</text><path d="M 714 0 L 530 0 L 530 1040 L 200 1040 L 200 1160 C 370 1170 490 1250 520 1409 L 714 1409 Z" fill="#231f20" stroke="#231f20" stroke-width="0.35" vector-effect="non-scaling-stroke" transform="translate(10.214,0) scale(0.007812,-0.007812)"/></g>
<rect x="214.30" y="366.70" width="3.3" height="1.2" fill="#231f20"/>
<g transform="translate(220.40,372.50) scale(0.76,1)"><path d="M 714 0 L 530 0 L 530 1040 L 200 1040 L 200 1160 C 370 1170 490 1250 520 1409 L 714 1409 Z" fill="#231f20" stroke="#231f20" stroke-width="0.35" vector-effect="non-scaling-stroke" transform="translate(0.000,0) scale(0.007812,-0.007812)"/><path d="M 714 0 L 530 0 L 530 1040 L 200 1040 L 200 1160 C 370 1170 490 1250 520 1409 L 714 1409 Z" fill="#231f20" stroke="#231f20" stroke-width="0.35" vector-effect="non-scaling-stroke" transform="translate(10.214,0) scale(0.007812,-0.007812)"/></g>
<rect x="214.30" y="391.62" width="3.3" height="1.2" fill="#231f20"/>
<g transform="translate(220.40,397.42) scale(0.76,1)"><text class="lab" x="0.00" y="0" xml:space="preserve">2</text><text class="lab" x="10.21" y="0" xml:space="preserve">4</text></g>
<rect x="214.30" y="416.54" width="3.3" height="1.2" fill="#231f20"/>
<g transform="translate(220.40,422.34) scale(0.76,1)"><text class="lab" x="0.00" y="0" xml:space="preserve">2</text></g>
<rect x="214.30" y="441.46" width="3.3" height="1.2" fill="#231f20"/>
<g transform="translate(220.40,447.26) scale(0.76,1)"><text class="lab" x="0.00" y="0" xml:space="preserve">2</text><text class="lab" x="10.21" y="0" xml:space="preserve">7</text></g>
<text class="lab2" x="12.30" y="462.6">Pop.</text>
<g transform="translate(61.30,462.60) scale(1.0,1)"><text class="lab2" x="-4.45" y="0" xml:space="preserve">7</text></g>
<g transform="translate(85.00,462.60) scale(1.0,1)"><text class="lab2" x="-4.45" y="0" xml:space="preserve">6</text></g>
<g transform="translate(109.30,462.60) scale(1.0,1)"><text class="lab2" x="-4.45" y="0" xml:space="preserve">5</text></g>
<g transform="translate(133.10,462.60) scale(1.0,1)"><text class="lab2" x="-4.45" y="0" xml:space="preserve">4</text></g>
<g transform="translate(157.75,462.60) scale(1.0,1)"><text class="lab2" x="-4.45" y="0" xml:space="preserve">3</text></g>
<g transform="translate(181.50,462.60) scale(1.0,1)"><text class="lab2" x="-4.45" y="0" xml:space="preserve">2</text></g>
<g transform="translate(205.80,462.60) scale(1.0,1)"><path d="M 714 0 L 530 0 L 530 1040 L 200 1040 L 200 1160 C 370 1170 490 1250 520 1409 L 714 1409 Z" fill="#231f20" transform="translate(-4.449,0) scale(0.007812,-0.007812)"/></g>
<rect x="50.60" y="469.30" width="161.40" height="1.4" fill="#231f20"/>
<text class="lab3" x="137.60" y="487.80" text-anchor="middle">R3/R4 cells</text>
<rect x="282.9" y="50.90" width="21.5" height="13.90" fill="#E8702E"/>
<rect x="282.9" y="63.30" width="21.5" height="13.90" fill="#EA7430"/>
<rect x="282.9" y="75.70" width="21.5" height="13.90" fill="#EC7E32"/>
<rect x="282.9" y="88.10" width="21.5" height="13.90" fill="#ED8433"/>
<rect x="282.9" y="100.50" width="21.5" height="13.90" fill="#EE8A34"/>
<rect x="282.9" y="112.90" width="21.5" height="13.90" fill="#F0A62B"/>
<rect x="282.9" y="125.30" width="21.5" height="13.90" fill="#F0A82A"/>
<rect x="282.9" y="137.70" width="21.5" height="13.90" fill="#F0A82A"/>
<rect x="282.9" y="150.10" width="21.5" height="13.90" fill="#F0A92A"/>
<rect x="282.9" y="162.50" width="21.5" height="13.90" fill="#F0AE2A"/>
<rect x="282.9" y="174.90" width="21.5" height="13.90" fill="#F2B52A"/>
<rect x="282.9" y="187.30" width="21.5" height="13.90" fill="#F3BC28"/>
<rect x="282.9" y="199.70" width="21.5" height="13.90" fill="#F2D52A"/>
<rect x="282.9" y="212.10" width="21.5" height="13.90" fill="#D8CC38"/>
<rect x="282.9" y="224.50" width="21.5" height="13.90" fill="#D0C440"/>
<rect x="282.9" y="236.90" width="21.5" height="13.90" fill="#CDC148"/>
<rect x="282.9" y="249.30" width="21.5" height="13.90" fill="#B3AD64"/>
<rect x="282.9" y="261.70" width="21.5" height="13.90" fill="#BBB25C"/>
<rect x="282.9" y="274.10" width="21.5" height="13.90" fill="#B9B05E"/>
<rect x="282.9" y="286.50" width="21.5" height="13.90" fill="#A0A078"/>
<rect x="282.9" y="298.90" width="21.5" height="13.90" fill="#9D9F7C"/>
<rect x="282.9" y="311.30" width="21.5" height="13.90" fill="#9A9D80"/>
<rect x="282.9" y="323.70" width="21.5" height="13.90" fill="#878C92"/>
<rect x="282.9" y="336.10" width="21.5" height="13.90" fill="#878B92"/>
<rect x="282.9" y="348.50" width="21.5" height="13.90" fill="#868A94"/>
<rect x="282.9" y="360.90" width="21.5" height="13.90" fill="#7880A8"/>
<rect x="282.9" y="373.30" width="21.5" height="13.90" fill="#7680A8"/>
<rect x="282.9" y="385.70" width="21.5" height="13.90" fill="#7C84A0"/>
<rect x="282.9" y="398.10" width="21.5" height="13.90" fill="#4D66B0"/>
<rect x="282.9" y="410.50" width="21.5" height="13.90" fill="#3A3E9C"/>
<rect x="282.9" y="422.90" width="21.5" height="13.90" fill="#3A3E9C"/>
<rect x="282.9" y="435.30" width="21.5" height="12.40" fill="#3A3E9C"/>
<rect x="279.10" y="55.20" width="5.00" height="1.2" fill="#231f20"/>
<g transform="translate(277.70,61.00) scale(0.76,1)"><text class="lab" x="-8.90" y="0" xml:space="preserve">9</text></g>
<rect x="279.10" y="80.12" width="5.00" height="1.2" fill="#231f20"/>
<g transform="translate(277.70,85.92) scale(0.76,1)"><text class="lab" x="-8.90" y="0" xml:space="preserve">8</text></g>
<rect x="279.10" y="105.04" width="5.00" height="1.2" fill="#231f20"/>
<g transform="translate(277.70,110.84) scale(0.76,1)"><text class="lab" x="-19.11" y="0" xml:space="preserve">3</text><path d="M 714 0 L 530 0 L 530 1040 L 200 1040 L 200 1160 C 370 1170 490 1250 520 1409 L 714 1409 Z" fill="#231f20" stroke="#231f20" stroke-width="0.35" vector-effect="non-scaling-stroke" transform="translate(-8.898,0) scale(0.007812,-0.007812)"/></g>
<rect x="279.10" y="129.96" width="5.00" height="1.2" fill="#231f20"/>
<g transform="translate(277.70,135.76) scale(0.76,1)"><text class="lab" x="-8.90" y="0" xml:space="preserve">6</text></g>
<rect x="279.10" y="154.88" width="5.00" height="1.2" fill="#231f20"/>
<g transform="translate(277.70,160.68) scale(0.76,1)"><text class="lab" x="-8.90" y="0" xml:space="preserve">7</text></g>
<rect x="279.10" y="179.80" width="5.00" height="1.2" fill="#231f20"/>
<g transform="translate(277.70,185.60) scale(0.76,1)"><path d="M 714 0 L 530 0 L 530 1040 L 200 1040 L 200 1160 C 370 1170 490 1250 520 1409 L 714 1409 Z" fill="#231f20" stroke="#231f20" stroke-width="0.35" vector-effect="non-scaling-stroke" transform="translate(-19.113,0) scale(0.007812,-0.007812)"/><text class="lab" x="-8.90" y="0" xml:space="preserve">5</text></g>
<rect x="279.10" y="204.72" width="5.00" height="1.2" fill="#231f20"/>
<g transform="translate(277.70,210.52) scale(0.76,1)"><path d="M 714 0 L 530 0 L 530 1040 L 200 1040 L 200 1160 C 370 1170 490 1250 520 1409 L 714 1409 Z" fill="#231f20" stroke="#231f20" stroke-width="0.35" vector-effect="non-scaling-stroke" transform="translate(-19.113,0) scale(0.007812,-0.007812)"/><text class="lab" x="-8.90" y="0" xml:space="preserve">4</text></g>
<rect x="279.10" y="229.64" width="5.00" height="1.2" fill="#231f20"/>
<g transform="translate(277.70,235.44) scale(0.76,1)"><text class="lab" x="-19.11" y="0" xml:space="preserve">2</text><text class="lab" x="-8.90" y="0" xml:space="preserve">3</text></g>
<rect x="279.10" y="254.56" width="5.00" height="1.2" fill="#231f20"/>
<g transform="translate(277.70,260.36) scale(0.76,1)"><path d="M 714 0 L 530 0 L 530 1040 L 200 1040 L 200 1160 C 370 1170 490 1250 520 1409 L 714 1409 Z" fill="#231f20" stroke="#231f20" stroke-width="0.35" vector-effect="non-scaling-stroke" transform="translate(-19.113,0) scale(0.007812,-0.007812)"/><text class="lab" x="-8.90" y="0" xml:space="preserve">7</text></g>
<rect x="279.10" y="279.48" width="5.00" height="1.2" fill="#231f20"/>
<g transform="translate(277.70,285.28) scale(0.76,1)"><text class="lab" x="-19.11" y="0" xml:space="preserve">2</text><text class="lab" x="-8.90" y="0" xml:space="preserve">2</text></g>
<rect x="279.10" y="304.40" width="5.00" height="1.2" fill="#231f20"/>
<g transform="translate(277.70,310.20) scale(0.76,1)"><text class="lab" x="-19.11" y="0" xml:space="preserve">2</text><text class="lab" x="-8.90" y="0" xml:space="preserve">8</text></g>
<rect x="279.10" y="329.32" width="5.00" height="1.2" fill="#231f20"/>
<g transform="translate(277.70,335.12) scale(0.76,1)"><text class="lab" x="-19.11" y="0" xml:space="preserve">2</text><text class="lab" x="-8.90" y="0" xml:space="preserve">6</text></g>
<rect x="279.10" y="354.24" width="5.00" height="1.2" fill="#231f20"/>
<g transform="translate(277.70,360.04) scale(0.76,1)"><path d="M 714 0 L 530 0 L 530 1040 L 200 1040 L 200 1160 C 370 1170 490 1250 520 1409 L 714 1409 Z" fill="#231f20" stroke="#231f20" stroke-width="0.35" vector-effect="non-scaling-stroke" transform="translate(-19.113,0) scale(0.007812,-0.007812)"/><text class="lab" x="-8.90" y="0" xml:space="preserve">2</text></g>
<rect x="279.10" y="379.16" width="5.00" height="1.2" fill="#231f20"/>
<g transform="translate(277.70,384.96) scale(0.76,1)"><path d="M 714 0 L 530 0 L 530 1040 L 200 1040 L 200 1160 C 370 1170 490 1250 520 1409 L 714 1409 Z" fill="#231f20" stroke="#231f20" stroke-width="0.35" vector-effect="non-scaling-stroke" transform="translate(-19.113,0) scale(0.007812,-0.007812)"/><path d="M 714 0 L 530 0 L 530 1040 L 200 1040 L 200 1160 C 370 1170 490 1250 520 1409 L 714 1409 Z" fill="#231f20" stroke="#231f20" stroke-width="0.35" vector-effect="non-scaling-stroke" transform="translate(-8.898,0) scale(0.007812,-0.007812)"/></g>
<rect x="279.10" y="404.08" width="5.00" height="1.2" fill="#231f20"/>
<g transform="translate(277.70,409.88) scale(0.76,1)"><text class="lab" x="-8.90" y="0" xml:space="preserve">2</text></g>
<rect x="279.10" y="429.00" width="5.00" height="1.2" fill="#231f20"/>
<g transform="translate(277.70,434.80) scale(0.76,1)"><text class="lab" x="-19.11" y="0" xml:space="preserve">3</text><text class="lab" x="-8.90" y="0" xml:space="preserve">2</text></g>
<rect x="311.40" y="50.05" width="21.60" height="12.400" fill="#fff" stroke="#231f20" stroke-width="1.4"/>
<rect x="311.40" y="62.45" width="21.60" height="12.400" fill="#fff" stroke="#231f20" stroke-width="1.4"/>
<rect x="311.40" y="74.85" width="21.60" height="12.400" fill="#fff" stroke="#231f20" stroke-width="1.4"/>
<rect x="311.40" y="87.25" width="21.60" height="12.400" fill="#fff" stroke="#231f20" stroke-width="1.4"/>
<rect x="311.40" y="99.65" width="21.60" height="12.400" fill="#231f20" stroke="#231f20" stroke-width="1.4"/>
<rect x="311.40" y="112.05" width="21.60" height="12.400" fill="#231f20" stroke="#231f20" stroke-width="1.4"/>
<rect x="311.40" y="124.45" width="21.60" height="12.400" fill="#fff" stroke="#231f20" stroke-width="1.4"/>
<rect x="311.40" y="136.85" width="21.60" height="12.400" fill="#fff" stroke="#231f20" stroke-width="1.4"/>
<rect x="311.40" y="149.25" width="21.60" height="12.400" fill="#231f20" stroke="#231f20" stroke-width="1.4"/>
<rect x="311.40" y="161.65" width="21.60" height="12.400" fill="#231f20" stroke="#231f20" stroke-width="1.4"/>
<rect x="311.40" y="174.05" width="21.60" height="12.400" fill="#fff" stroke="#231f20" stroke-width="1.4"/>
<rect x="311.40" y="186.45" width="21.60" height="12.400" fill="#231f20" stroke="#231f20" stroke-width="1.4"/>
<rect x="311.40" y="198.85" width="21.60" height="12.400" fill="#fff" stroke="#231f20" stroke-width="1.4"/>
<rect x="311.40" y="211.25" width="21.60" height="12.400" fill="#fff" stroke="#231f20" stroke-width="1.4"/>
<rect x="311.40" y="223.65" width="21.60" height="12.400" fill="#fff" stroke="#231f20" stroke-width="1.4"/>
<rect x="311.40" y="236.05" width="21.60" height="12.400" fill="#fff" stroke="#231f20" stroke-width="1.4"/>
<rect x="311.40" y="248.45" width="21.60" height="12.400" fill="#fff" stroke="#231f20" stroke-width="1.4"/>
<rect x="311.40" y="260.85" width="21.60" height="12.400" fill="#fff" stroke="#231f20" stroke-width="1.4"/>
<rect x="311.40" y="273.25" width="21.60" height="12.400" fill="#fff" stroke="#231f20" stroke-width="1.4"/>
<rect x="311.40" y="285.65" width="21.60" height="12.400" fill="#fff" stroke="#231f20" stroke-width="1.4"/>
<rect x="311.40" y="298.05" width="21.60" height="12.400" fill="#fff" stroke="#231f20" stroke-width="1.4"/>
<rect x="311.40" y="310.45" width="21.60" height="12.400" fill="#fff" stroke="#231f20" stroke-width="1.4"/>
<rect x="311.40" y="322.85" width="21.60" height="12.400" fill="#fff" stroke="#231f20" stroke-width="1.4"/>
<rect x="311.40" y="335.25" width="21.60" height="12.400" fill="#231f20" stroke="#231f20" stroke-width="1.4"/>
<rect x="311.40" y="347.65" width="21.60" height="12.400" fill="#231f20" stroke="#231f20" stroke-width="1.4"/>
<rect x="311.40" y="360.05" width="21.60" height="12.400" fill="#fff" stroke="#231f20" stroke-width="1.4"/>
<rect x="311.40" y="372.45" width="21.60" height="12.400" fill="#fff" stroke="#231f20" stroke-width="1.4"/>
<rect x="311.40" y="384.85" width="21.60" height="12.400" fill="#fff" stroke="#231f20" stroke-width="1.4"/>
<rect x="311.40" y="397.25" width="21.60" height="12.400" fill="#fff" stroke="#231f20" stroke-width="1.4"/>
<rect x="311.40" y="409.65" width="21.60" height="12.400" fill="#fff" stroke="#231f20" stroke-width="1.4"/>
<rect x="311.40" y="422.05" width="21.60" height="12.400" fill="#fff" stroke="#231f20" stroke-width="1.4"/>
<rect x="311.40" y="434.45" width="21.60" height="12.400" fill="#fff" stroke="#231f20" stroke-width="1.4"/>
<rect x="335.72" y="50.05" width="21.60" height="12.400" fill="#fff" stroke="#231f20" stroke-width="1.4"/>
<rect x="335.72" y="62.45" width="21.60" height="12.400" fill="#fff" stroke="#231f20" stroke-width="1.4"/>
<rect x="335.72" y="74.85" width="21.60" height="12.400" fill="#231f20" stroke="#231f20" stroke-width="1.4"/>
<rect x="335.72" y="87.25" width="21.60" height="12.400" fill="#fff" stroke="#231f20" stroke-width="1.4"/>
<rect x="335.72" y="99.65" width="21.60" height="12.400" fill="#fff" stroke="#231f20" stroke-width="1.4"/>
<rect x="335.72" y="112.05" width="21.60" height="12.400" fill="#231f20" stroke="#231f20" stroke-width="1.4"/>
<rect x="335.72" y="124.45" width="21.60" height="12.400" fill="#fff" stroke="#231f20" stroke-width="1.4"/>
<rect x="335.72" y="136.85" width="21.60" height="12.400" fill="#fff" stroke="#231f20" stroke-width="1.4"/>
<rect x="335.72" y="149.25" width="21.60" height="12.400" fill="#fff" stroke="#231f20" stroke-width="1.4"/>
<rect x="335.72" y="161.65" width="21.60" height="12.400" fill="#fff" stroke="#231f20" stroke-width="1.4"/>
<rect x="335.72" y="174.05" width="21.60" height="12.400" fill="#fff" stroke="#231f20" stroke-width="1.4"/>
<rect x="335.72" y="186.45" width="21.60" height="12.400" fill="#231f20" stroke="#231f20" stroke-width="1.4"/>
<rect x="335.72" y="198.85" width="21.60" height="12.400" fill="#231f20" stroke="#231f20" stroke-width="1.4"/>
<rect x="335.72" y="211.25" width="21.60" height="12.400" fill="#231f20" stroke="#231f20" stroke-width="1.4"/>
<rect x="335.72" y="223.65" width="21.60" height="12.400" fill="#231f20" stroke="#231f20" stroke-width="1.4"/>
<rect x="335.72" y="236.05" width="21.60" height="12.400" fill="#fff" stroke="#231f20" stroke-width="1.4"/>
<rect x="335.72" y="248.45" width="21.60" height="12.400" fill="#fff" stroke="#231f20" stroke-width="1.4"/>
<rect x="335.72" y="260.85" width="21.60" height="12.400" fill="#fff" stroke="#231f20" stroke-width="1.4"/>
<rect x="335.72" y="273.25" width="21.60" height="12.400" fill="#fff" stroke="#231f20" stroke-width="1.4"/>
<rect x="335.72" y="285.65" width="21.60" height="12.400" fill="#231f20" stroke="#231f20" stroke-width="1.4"/>
<rect x="335.72" y="298.05" width="21.60" height="12.400" fill="#231f20" stroke="#231f20" stroke-width="1.4"/>
<rect x="335.72" y="310.45" width="21.60" height="12.400" fill="#fff" stroke="#231f20" stroke-width="1.4"/>
<rect x="335.72" y="322.85" width="21.60" height="12.400" fill="#fff" stroke="#231f20" stroke-width="1.4"/>
<rect x="335.72" y="335.25" width="21.60" height="12.400" fill="#fff" stroke="#231f20" stroke-width="1.4"/>
<rect x="335.72" y="347.65" width="21.60" height="12.400" fill="#fff" stroke="#231f20" stroke-width="1.4"/>
<rect x="335.72" y="360.05" width="21.60" height="12.400" fill="#fff" stroke="#231f20" stroke-width="1.4"/>
<rect x="335.72" y="372.45" width="21.60" height="12.400" fill="#fff" stroke="#231f20" stroke-width="1.4"/>
<rect x="335.72" y="384.85" width="21.60" height="12.400" fill="#fff" stroke="#231f20" stroke-width="1.4"/>
<rect x="335.72" y="397.25" width="21.60" height="12.400" fill="#fff" stroke="#231f20" stroke-width="1.4"/>
<rect x="335.72" y="409.65" width="21.60" height="12.400" fill="#fff" stroke="#231f20" stroke-width="1.4"/>
<rect x="335.72" y="422.05" width="21.60" height="12.400" fill="#fff" stroke="#231f20" stroke-width="1.4"/>
<rect x="335.72" y="434.45" width="21.60" height="12.400" fill="#fff" stroke="#231f20" stroke-width="1.4"/>
<rect x="360.04" y="50.05" width="21.60" height="12.400" fill="#231f20" stroke="#231f20" stroke-width="1.4"/>
<rect x="360.04" y="62.45" width="21.60" height="12.400" fill="#fff" stroke="#231f20" stroke-width="1.4"/>
<rect x="360.04" y="74.85" width="21.60" height="12.400" fill="#231f20" stroke="#231f20" stroke-width="1.4"/>
<rect x="360.04" y="87.25" width="21.60" height="12.400" fill="#fff" stroke="#231f20" stroke-width="1.4"/>
<rect x="360.04" y="99.65" width="21.60" height="12.400" fill="#fff" stroke="#231f20" stroke-width="1.4"/>
<rect x="360.04" y="112.05" width="21.60" height="12.400" fill="#231f20" stroke="#231f20" stroke-width="1.4"/>
<rect x="360.04" y="124.45" width="21.60" height="12.400" fill="#231f20" stroke="#231f20" stroke-width="1.4"/>
<rect x="360.04" y="136.85" width="21.60" height="12.400" fill="#fff" stroke="#231f20" stroke-width="1.4"/>
<rect x="360.04" y="149.25" width="21.60" height="12.400" fill="#231f20" stroke="#231f20" stroke-width="1.4"/>
<rect x="360.04" y="161.65" width="21.60" height="12.400" fill="#231f20" stroke="#231f20" stroke-width="1.4"/>
<rect x="360.04" y="174.05" width="21.60" height="12.400" fill="#231f20" stroke="#231f20" stroke-width="1.4"/>
<rect x="360.04" y="186.45" width="21.60" height="12.400" fill="#231f20" stroke="#231f20" stroke-width="1.4"/>
<rect x="360.04" y="198.85" width="21.60" height="12.400" fill="#231f20" stroke="#231f20" stroke-width="1.4"/>
<rect x="360.04" y="211.25" width="21.60" height="12.400" fill="#231f20" stroke="#231f20" stroke-width="1.4"/>
<rect x="360.04" y="223.65" width="21.60" height="12.400" fill="#fff" stroke="#231f20" stroke-width="1.4"/>
<rect x="360.04" y="236.05" width="21.60" height="12.400" fill="#fff" stroke="#231f20" stroke-width="1.4"/>
<rect x="360.04" y="248.45" width="21.60" height="12.400" fill="#fff" stroke="#231f20" stroke-width="1.4"/>
<rect x="360.04" y="260.85" width="21.60" height="12.400" fill="#fff" stroke="#231f20" stroke-width="1.4"/>
<rect x="360.04" y="273.25" width="21.60" height="12.400" fill="#fff" stroke="#231f20" stroke-width="1.4"/>
<rect x="360.04" y="285.65" width="21.60" height="12.400" fill="#fff" stroke="#231f20" stroke-width="1.4"/>
<rect x="360.04" y="298.05" width="21.60" height="12.400" fill="#fff" stroke="#231f20" stroke-width="1.4"/>
<rect x="360.04" y="310.45" width="21.60" height="12.400" fill="#fff" stroke="#231f20" stroke-width="1.4"/>
<rect x="360.04" y="322.85" width="21.60" height="12.400" fill="#231f20" stroke="#231f20" stroke-width="1.4"/>
<rect x="360.04" y="335.25" width="21.60" height="12.400" fill="#fff" stroke="#231f20" stroke-width="1.4"/>
<rect x="360.04" y="347.65" width="21.60" height="12.400" fill="#231f20" stroke="#231f20" stroke-width="1.4"/>
<rect x="360.04" y="360.05" width="21.60" height="12.400" fill="#fff" stroke="#231f20" stroke-width="1.4"/>
<rect x="360.04" y="372.45" width="21.60" height="12.400" fill="#fff" stroke="#231f20" stroke-width="1.4"/>
<rect x="360.04" y="384.85" width="21.60" height="12.400" fill="#fff" stroke="#231f20" stroke-width="1.4"/>
<rect x="360.04" y="397.25" width="21.60" height="12.400" fill="#fff" stroke="#231f20" stroke-width="1.4"/>
<rect x="360.04" y="409.65" width="21.60" height="12.400" fill="#fff" stroke="#231f20" stroke-width="1.4"/>
<rect x="360.04" y="422.05" width="21.60" height="12.400" fill="#fff" stroke="#231f20" stroke-width="1.4"/>
<rect x="360.04" y="434.45" width="21.60" height="12.400" fill="#fff" stroke="#231f20" stroke-width="1.4"/>
<rect x="384.36" y="50.05" width="21.60" height="12.400" fill="#231f20" stroke="#231f20" stroke-width="1.4"/>
<rect x="384.36" y="62.45" width="21.60" height="12.400" fill="#231f20" stroke="#231f20" stroke-width="1.4"/>
<rect x="384.36" y="74.85" width="21.60" height="12.400" fill="#231f20" stroke="#231f20" stroke-width="1.4"/>
<rect x="384.36" y="87.25" width="21.60" height="12.400" fill="#231f20" stroke="#231f20" stroke-width="1.4"/>
<rect x="384.36" y="99.65" width="21.60" height="12.400" fill="#fff" stroke="#231f20" stroke-width="1.4"/>
<rect x="384.36" y="112.05" width="21.60" height="12.400" fill="#fff" stroke="#231f20" stroke-width="1.4"/>
<rect x="384.36" y="124.45" width="21.60" height="12.400" fill="#fff" stroke="#231f20" stroke-width="1.4"/>
<rect x="384.36" y="136.85" width="21.60" height="12.400" fill="#fff" stroke="#231f20" stroke-width="1.4"/>
<rect x="384.36" y="149.25" width="21.60" height="12.400" fill="#231f20" stroke="#231f20" stroke-width="1.4"/>
<rect x="384.36" y="161.65" width="21.60" height="12.400" fill="#fff" stroke="#231f20" stroke-width="1.4"/>
<rect x="384.36" y="174.05" width="21.60" height="12.400" fill="#231f20" stroke="#231f20" stroke-width="1.4"/>
<rect x="384.36" y="186.45" width="21.60" height="12.400" fill="#fff" stroke="#231f20" stroke-width="1.4"/>
<rect x="384.36" y="198.85" width="21.60" height="12.400" fill="#fff" stroke="#231f20" stroke-width="1.4"/>
<rect x="384.36" y="211.25" width="21.60" height="12.400" fill="#fff" stroke="#231f20" stroke-width="1.4"/>
<rect x="384.36" y="223.65" width="21.60" height="12.400" fill="#fff" stroke="#231f20" stroke-width="1.4"/>
<rect x="384.36" y="236.05" width="21.60" height="12.400" fill="#231f20" stroke="#231f20" stroke-width="1.4"/>
<rect x="384.36" y="248.45" width="21.60" height="12.400" fill="#231f20" stroke="#231f20" stroke-width="1.4"/>
<rect x="384.36" y="260.85" width="21.60" height="12.400" fill="#fff" stroke="#231f20" stroke-width="1.4"/>
<rect x="384.36" y="273.25" width="21.60" height="12.400" fill="#fff" stroke="#231f20" stroke-width="1.4"/>
<rect x="384.36" y="285.65" width="21.60" height="12.400" fill="#fff" stroke="#231f20" stroke-width="1.4"/>
<rect x="384.36" y="298.05" width="21.60" height="12.400" fill="#fff" stroke="#231f20" stroke-width="1.4"/>
<rect x="384.36" y="310.45" width="21.60" height="12.400" fill="#fff" stroke="#231f20" stroke-width="1.4"/>
<rect x="384.36" y="322.85" width="21.60" height="12.400" fill="#fff" stroke="#231f20" stroke-width="1.4"/>
<rect x="384.36" y="335.25" width="21.60" height="12.400" fill="#fff" stroke="#231f20" stroke-width="1.4"/>
<rect x="384.36" y="347.65" width="21.60" height="12.400" fill="#fff" stroke="#231f20" stroke-width="1.4"/>
<rect x="384.36" y="360.05" width="21.60" height="12.400" fill="#231f20" stroke="#231f20" stroke-width="1.4"/>
<rect x="384.36" y="372.45" width="21.60" height="12.400" fill="#fff" stroke="#231f20" stroke-width="1.4"/>
<rect x="384.36" y="384.85" width="21.60" height="12.400" fill="#fff" stroke="#231f20" stroke-width="1.4"/>
<rect x="384.36" y="397.25" width="21.60" height="12.400" fill="#fff" stroke="#231f20" stroke-width="1.4"/>
<rect x="384.36" y="409.65" width="21.60" height="12.400" fill="#fff" stroke="#231f20" stroke-width="1.4"/>
<rect x="384.36" y="422.05" width="21.60" height="12.400" fill="#fff" stroke="#231f20" stroke-width="1.4"/>
<rect x="384.36" y="434.45" width="21.60" height="12.400" fill="#fff" stroke="#231f20" stroke-width="1.4"/>
<rect x="408.68" y="50.05" width="21.60" height="12.400" fill="#fff" stroke="#231f20" stroke-width="1.4"/>
<rect x="408.68" y="62.45" width="21.60" height="12.400" fill="#fff" stroke="#231f20" stroke-width="1.4"/>
<rect x="408.68" y="74.85" width="21.60" height="12.400" fill="#231f20" stroke="#231f20" stroke-width="1.4"/>
<rect x="408.68" y="87.25" width="21.60" height="12.400" fill="#231f20" stroke="#231f20" stroke-width="1.4"/>
<rect x="408.68" y="99.65" width="21.60" height="12.400" fill="#fff" stroke="#231f20" stroke-width="1.4"/>
<rect x="408.68" y="112.05" width="21.60" height="12.400" fill="#fff" stroke="#231f20" stroke-width="1.4"/>
<rect x="408.68" y="124.45" width="21.60" height="12.400" fill="#fff" stroke="#231f20" stroke-width="1.4"/>
<rect x="408.68" y="136.85" width="21.60" height="12.400" fill="#fff" stroke="#231f20" stroke-width="1.4"/>
<rect x="408.68" y="149.25" width="21.60" height="12.400" fill="#fff" stroke="#231f20" stroke-width="1.4"/>
<rect x="408.68" y="161.65" width="21.60" height="12.400" fill="#231f20" stroke="#231f20" stroke-width="1.4"/>
<rect x="408.68" y="174.05" width="21.60" height="12.400" fill="#fff" stroke="#231f20" stroke-width="1.4"/>
<rect x="408.68" y="186.45" width="21.60" height="12.400" fill="#231f20" stroke="#231f20" stroke-width="1.4"/>
<rect x="408.68" y="198.85" width="21.60" height="12.400" fill="#231f20" stroke="#231f20" stroke-width="1.4"/>
<rect x="408.68" y="211.25" width="21.60" height="12.400" fill="#231f20" stroke="#231f20" stroke-width="1.4"/>
<rect x="408.68" y="223.65" width="21.60" height="12.400" fill="#231f20" stroke="#231f20" stroke-width="1.4"/>
<rect x="408.68" y="236.05" width="21.60" height="12.400" fill="#fff" stroke="#231f20" stroke-width="1.4"/>
<rect x="408.68" y="248.45" width="21.60" height="12.400" fill="#fff" stroke="#231f20" stroke-width="1.4"/>
<rect x="408.68" y="260.85" width="21.60" height="12.400" fill="#fff" stroke="#231f20" stroke-width="1.4"/>
<rect x="408.68" y="273.25" width="21.60" height="12.400" fill="#fff" stroke="#231f20" stroke-width="1.4"/>
<rect x="408.68" y="285.65" width="21.60" height="12.400" fill="#fff" stroke="#231f20" stroke-width="1.4"/>
<rect x="408.68" y="298.05" width="21.60" height="12.400" fill="#fff" stroke="#231f20" stroke-width="1.4"/>
<rect x="408.68" y="310.45" width="21.60" height="12.400" fill="#fff" stroke="#231f20" stroke-width="1.4"/>
<rect x="408.68" y="322.85" width="21.60" height="12.400" fill="#231f20" stroke="#231f20" stroke-width="1.4"/>
<rect x="408.68" y="335.25" width="21.60" height="12.400" fill="#fff" stroke="#231f20" stroke-width="1.4"/>
<rect x="408.68" y="347.65" width="21.60" height="12.400" fill="#fff" stroke="#231f20" stroke-width="1.4"/>
<rect x="408.68" y="360.05" width="21.60" height="12.400" fill="#fff" stroke="#231f20" stroke-width="1.4"/>
<rect x="408.68" y="372.45" width="21.60" height="12.400" fill="#fff" stroke="#231f20" stroke-width="1.4"/>
<rect x="408.68" y="384.85" width="21.60" height="12.400" fill="#231f20" stroke="#231f20" stroke-width="1.4"/>
<rect x="408.68" y="397.25" width="21.60" height="12.400" fill="#fff" stroke="#231f20" stroke-width="1.4"/>
<rect x="408.68" y="409.65" width="21.60" height="12.400" fill="#fff" stroke="#231f20" stroke-width="1.4"/>
<rect x="408.68" y="422.05" width="21.60" height="12.400" fill="#fff" stroke="#231f20" stroke-width="1.4"/>
<rect x="408.68" y="434.45" width="21.60" height="12.400" fill="#fff" stroke="#231f20" stroke-width="1.4"/>
<rect x="433.00" y="50.05" width="21.60" height="12.400" fill="#231f20" stroke="#231f20" stroke-width="1.4"/>
<rect x="433.00" y="62.45" width="21.60" height="12.400" fill="#231f20" stroke="#231f20" stroke-width="1.4"/>
<rect x="433.00" y="74.85" width="21.60" height="12.400" fill="#231f20" stroke="#231f20" stroke-width="1.4"/>
<rect x="433.00" y="87.25" width="21.60" height="12.400" fill="#fff" stroke="#231f20" stroke-width="1.4"/>
<rect x="433.00" y="99.65" width="21.60" height="12.400" fill="#fff" stroke="#231f20" stroke-width="1.4"/>
<rect x="433.00" y="112.05" width="21.60" height="12.400" fill="#231f20" stroke="#231f20" stroke-width="1.4"/>
<rect x="433.00" y="124.45" width="21.60" height="12.400" fill="#fff" stroke="#231f20" stroke-width="1.4"/>
<rect x="433.00" y="136.85" width="21.60" height="12.400" fill="#fff" stroke="#231f20" stroke-width="1.4"/>
<rect x="433.00" y="149.25" width="21.60" height="12.400" fill="#fff" stroke="#231f20" stroke-width="1.4"/>
<rect x="433.00" y="161.65" width="21.60" height="12.400" fill="#231f20" stroke="#231f20" stroke-width="1.4"/>
<rect x="433.00" y="174.05" width="21.60" height="12.400" fill="#231f20" stroke="#231f20" stroke-width="1.4"/>
<rect x="433.00" y="186.45" width="21.60" height="12.400" fill="#231f20" stroke="#231f20" stroke-width="1.4"/>
<rect x="433.00" y="198.85" width="21.60" height="12.400" fill="#fff" stroke="#231f20" stroke-width="1.4"/>
<rect x="433.00" y="211.25" width="21.60" height="12.400" fill="#fff" stroke="#231f20" stroke-width="1.4"/>
<rect x="433.00" y="223.65" width="21.60" height="12.400" fill="#fff" stroke="#231f20" stroke-width="1.4"/>
<rect x="433.00" y="236.05" width="21.60" height="12.400" fill="#fff" stroke="#231f20" stroke-width="1.4"/>
<rect x="433.00" y="248.45" width="21.60" height="12.400" fill="#fff" stroke="#231f20" stroke-width="1.4"/>
<rect x="433.00" y="260.85" width="21.60" height="12.400" fill="#fff" stroke="#231f20" stroke-width="1.4"/>
<rect x="433.00" y="273.25" width="21.60" height="12.400" fill="#231f20" stroke="#231f20" stroke-width="1.4"/>
<rect x="433.00" y="285.65" width="21.60" height="12.400" fill="#fff" stroke="#231f20" stroke-width="1.4"/>
<rect x="433.00" y="298.05" width="21.60" height="12.400" fill="#fff" stroke="#231f20" stroke-width="1.4"/>
<rect x="433.00" y="310.45" width="21.60" height="12.400" fill="#fff" stroke="#231f20" stroke-width="1.4"/>
<rect x="433.00" y="322.85" width="21.60" height="12.400" fill="#231f20" stroke="#231f20" stroke-width="1.4"/>
<rect x="433.00" y="335.25" width="21.60" height="12.400" fill="#fff" stroke="#231f20" stroke-width="1.4"/>
<rect x="433.00" y="347.65" width="21.60" height="12.400" fill="#fff" stroke="#231f20" stroke-width="1.4"/>
<rect x="433.00" y="360.05" width="21.60" height="12.400" fill="#fff" stroke="#231f20" stroke-width="1.4"/>
<rect x="433.00" y="372.45" width="21.60" height="12.400" fill="#fff" stroke="#231f20" stroke-width="1.4"/>
<rect x="433.00" y="384.85" width="21.60" height="12.400" fill="#fff" stroke="#231f20" stroke-width="1.4"/>
<rect x="433.00" y="397.25" width="21.60" height="12.400" fill="#fff" stroke="#231f20" stroke-width="1.4"/>
<rect x="433.00" y="409.65" width="21.60" height="12.400" fill="#fff" stroke="#231f20" stroke-width="1.4"/>
<rect x="433.00" y="422.05" width="21.60" height="12.400" fill="#fff" stroke="#231f20" stroke-width="1.4"/>
<rect x="433.00" y="434.45" width="21.60" height="12.400" fill="#fff" stroke="#231f20" stroke-width="1.4"/>
<rect x="457.32" y="50.05" width="21.60" height="12.400" fill="#231f20" stroke="#231f20" stroke-width="1.4"/>
<rect x="457.32" y="62.45" width="21.60" height="12.400" fill="#fff" stroke="#231f20" stroke-width="1.4"/>
<rect x="457.32" y="74.85" width="21.60" height="12.400" fill="#231f20" stroke="#231f20" stroke-width="1.4"/>
<rect x="457.32" y="87.25" width="21.60" height="12.400" fill="#231f20" stroke="#231f20" stroke-width="1.4"/>
<rect x="457.32" y="99.65" width="21.60" height="12.400" fill="#fff" stroke="#231f20" stroke-width="1.4"/>
<rect x="457.32" y="112.05" width="21.60" height="12.400" fill="#fff" stroke="#231f20" stroke-width="1.4"/>
<rect x="457.32" y="124.45" width="21.60" height="12.400" fill="#fff" stroke="#231f20" stroke-width="1.4"/>
<rect x="457.32" y="136.85" width="21.60" height="12.400" fill="#fff" stroke="#231f20" stroke-width="1.4"/>
<rect x="457.32" y="149.25" width="21.60" height="12.400" fill="#231f20" stroke="#231f20" stroke-width="1.4"/>
<rect x="457.32" y="161.65" width="21.60" height="12.400" fill="#fff" stroke="#231f20" stroke-width="1.4"/>
<rect x="457.32" y="174.05" width="21.60" height="12.400" fill="#231f20" stroke="#231f20" stroke-width="1.4"/>
<rect x="457.32" y="186.45" width="21.60" height="12.400" fill="#231f20" stroke="#231f20" stroke-width="1.4"/>
<rect x="457.32" y="198.85" width="21.60" height="12.400" fill="#fff" stroke="#231f20" stroke-width="1.4"/>
<rect x="457.32" y="211.25" width="21.60" height="12.400" fill="#231f20" stroke="#231f20" stroke-width="1.4"/>
<rect x="457.32" y="223.65" width="21.60" height="12.400" fill="#231f20" stroke="#231f20" stroke-width="1.4"/>
<rect x="457.32" y="236.05" width="21.60" height="12.400" fill="#231f20" stroke="#231f20" stroke-width="1.4"/>
<rect x="457.32" y="248.45" width="21.60" height="12.400" fill="#fff" stroke="#231f20" stroke-width="1.4"/>
<rect x="457.32" y="260.85" width="21.60" height="12.400" fill="#231f20" stroke="#231f20" stroke-width="1.4"/>
<rect x="457.32" y="273.25" width="21.60" height="12.400" fill="#fff" stroke="#231f20" stroke-width="1.4"/>
<rect x="457.32" y="285.65" width="21.60" height="12.400" fill="#fff" stroke="#231f20" stroke-width="1.4"/>
<rect x="457.32" y="298.05" width="21.60" height="12.400" fill="#fff" stroke="#231f20" stroke-width="1.4"/>
<rect x="457.32" y="310.45" width="21.60" height="12.400" fill="#fff" stroke="#231f20" stroke-width="1.4"/>
<rect x="457.32" y="322.85" width="21.60" height="12.400" fill="#231f20" stroke="#231f20" stroke-width="1.4"/>
<rect x="457.32" y="335.25" width="21.60" height="12.400" fill="#fff" stroke="#231f20" stroke-width="1.4"/>
<rect x="457.32" y="347.65" width="21.60" height="12.400" fill="#fff" stroke="#231f20" stroke-width="1.4"/>
<rect x="457.32" y="360.05" width="21.60" height="12.400" fill="#231f20" stroke="#231f20" stroke-width="1.4"/>
<rect x="457.32" y="372.45" width="21.60" height="12.400" fill="#fff" stroke="#231f20" stroke-width="1.4"/>
<rect x="457.32" y="384.85" width="21.60" height="12.400" fill="#231f20" stroke="#231f20" stroke-width="1.4"/>
<rect x="457.32" y="397.25" width="21.60" height="12.400" fill="#fff" stroke="#231f20" stroke-width="1.4"/>
<rect x="457.32" y="409.65" width="21.60" height="12.400" fill="#fff" stroke="#231f20" stroke-width="1.4"/>
<rect x="457.32" y="422.05" width="21.60" height="12.400" fill="#fff" stroke="#231f20" stroke-width="1.4"/>
<rect x="457.32" y="434.45" width="21.60" height="12.400" fill="#fff" stroke="#231f20" stroke-width="1.4"/>
<rect x="479.32" y="67.66" width="3.3" height="1.2" fill="#231f20"/>
<g transform="translate(485.42,73.46) scale(0.76,1)"><text class="lab" x="0.00" y="0" xml:space="preserve">3</text><text class="lab" x="10.21" y="0" xml:space="preserve">0</text></g>
<rect x="479.32" y="92.58" width="3.3" height="1.2" fill="#231f20"/>
<g transform="translate(485.42,98.38) scale(0.76,1)"><path d="M 714 0 L 530 0 L 530 1040 L 200 1040 L 200 1160 C 370 1170 490 1250 520 1409 L 714 1409 Z" fill="#231f20" stroke="#231f20" stroke-width="0.35" vector-effect="non-scaling-stroke" transform="translate(0.000,0) scale(0.007812,-0.007812)"/><text class="lab" x="10.21" y="0" xml:space="preserve">8</text></g>
<rect x="479.32" y="117.50" width="3.3" height="1.2" fill="#231f20"/>
<g transform="translate(485.42,123.30) scale(0.76,1)"><text class="lab" x="0.00" y="0" xml:space="preserve">2</text><text class="lab" x="10.21" y="0" xml:space="preserve">9</text></g>
<rect x="479.32" y="142.42" width="3.3" height="1.2" fill="#231f20"/>
<g transform="translate(485.42,148.22) scale(0.76,1)"><path d="M 714 0 L 530 0 L 530 1040 L 200 1040 L 200 1160 C 370 1170 490 1250 520 1409 L 714 1409 Z" fill="#231f20" stroke="#231f20" stroke-width="0.35" vector-effect="non-scaling-stroke" transform="translate(0.000,0) scale(0.007812,-0.007812)"/><text class="lab" x="10.21" y="0" xml:space="preserve">3</text></g>
<rect x="479.32" y="167.34" width="3.3" height="1.2" fill="#231f20"/>
<g transform="translate(485.42,173.14) scale(0.76,1)"><path d="M 714 0 L 530 0 L 530 1040 L 200 1040 L 200 1160 C 370 1170 490 1250 520 1409 L 714 1409 Z" fill="#231f20" stroke="#231f20" stroke-width="0.35" vector-effect="non-scaling-stroke" transform="translate(0.000,0) scale(0.007812,-0.007812)"/><text class="lab" x="10.21" y="0" xml:space="preserve">0</text></g>
<rect x="479.32" y="192.26" width="3.3" height="1.2" fill="#231f20"/>
<g transform="translate(485.42,198.06) scale(0.76,1)"><text class="lab" x="0.00" y="0" xml:space="preserve">5</text></g>
<rect x="479.32" y="217.18" width="3.3" height="1.2" fill="#231f20"/>
<g transform="translate(485.42,222.98) scale(0.76,1)"><path d="M 714 0 L 530 0 L 530 1040 L 200 1040 L 200 1160 C 370 1170 490 1250 520 1409 L 714 1409 Z" fill="#231f20" stroke="#231f20" stroke-width="0.35" vector-effect="non-scaling-stroke" transform="translate(0.000,0) scale(0.007812,-0.007812)"/><text class="lab" x="10.21" y="0" xml:space="preserve">6</text></g>
<rect x="479.32" y="242.10" width="3.3" height="1.2" fill="#231f20"/>
<g transform="translate(485.42,247.90) scale(0.76,1)"><text class="lab" x="0.00" y="0" xml:space="preserve">2</text><text class="lab" x="10.21" y="0" xml:space="preserve">0</text></g>
<rect x="479.32" y="267.02" width="3.3" height="1.2" fill="#231f20"/>
<g transform="translate(485.42,272.82) scale(0.76,1)"><text class="lab" x="0.00" y="0" xml:space="preserve">2</text><text class="lab" x="10.21" y="0" xml:space="preserve">5</text></g>
<rect x="479.32" y="291.94" width="3.3" height="1.2" fill="#231f20"/>
<g transform="translate(485.42,297.74) scale(0.76,1)"><text class="lab" x="0.00" y="0" xml:space="preserve">3</text></g>
<rect x="479.32" y="316.86" width="3.3" height="1.2" fill="#231f20"/>
<g transform="translate(485.42,322.66) scale(0.76,1)"><text class="lab" x="0.00" y="0" xml:space="preserve">4</text></g>
<rect x="479.32" y="341.78" width="3.3" height="1.2" fill="#231f20"/>
<g transform="translate(485.42,347.58) scale(0.76,1)"><path d="M 714 0 L 530 0 L 530 1040 L 200 1040 L 200 1160 C 370 1170 490 1250 520 1409 L 714 1409 Z" fill="#231f20" stroke="#231f20" stroke-width="0.35" vector-effect="non-scaling-stroke" transform="translate(0.000,0) scale(0.007812,-0.007812)"/><text class="lab" x="10.21" y="0" xml:space="preserve">9</text></g>
<rect x="479.32" y="366.70" width="3.3" height="1.2" fill="#231f20"/>
<g transform="translate(485.42,372.50) scale(0.76,1)"><text class="lab" x="0.00" y="0" xml:space="preserve">2</text><path d="M 714 0 L 530 0 L 530 1040 L 200 1040 L 200 1160 C 370 1170 490 1250 520 1409 L 714 1409 Z" fill="#231f20" stroke="#231f20" stroke-width="0.35" vector-effect="non-scaling-stroke" transform="translate(10.214,0) scale(0.007812,-0.007812)"/></g>
<rect x="479.32" y="391.62" width="3.3" height="1.2" fill="#231f20"/>
<g transform="translate(485.42,397.42) scale(0.76,1)"><path d="M 714 0 L 530 0 L 530 1040 L 200 1040 L 200 1160 C 370 1170 490 1250 520 1409 L 714 1409 Z" fill="#231f20" stroke="#231f20" stroke-width="0.35" vector-effect="non-scaling-stroke" transform="translate(0.000,0) scale(0.007812,-0.007812)"/></g>
<rect x="479.32" y="416.54" width="3.3" height="1.2" fill="#231f20"/>
<g transform="translate(485.42,422.34) scale(0.76,1)"><text class="lab" x="0.00" y="0" xml:space="preserve">2</text><text class="lab" x="10.21" y="0" xml:space="preserve">4</text></g>
<rect x="479.32" y="441.46" width="3.3" height="1.2" fill="#231f20"/>
<g transform="translate(485.42,447.26) scale(0.76,1)"><text class="lab" x="0.00" y="0" xml:space="preserve">2</text><text class="lab" x="10.21" y="0" xml:space="preserve">7</text></g>
<text class="lab2" x="274.00" y="462.6">Pop.</text>
<g transform="translate(323.40,462.60) scale(1.0,1)"><text class="lab2" x="-4.45" y="0" xml:space="preserve">7</text></g>
<g transform="translate(347.20,462.60) scale(1.0,1)"><text class="lab2" x="-4.45" y="0" xml:space="preserve">6</text></g>
<g transform="translate(371.40,462.60) scale(1.0,1)"><text class="lab2" x="-4.45" y="0" xml:space="preserve">5</text></g>
<g transform="translate(395.00,462.60) scale(1.0,1)"><text class="lab2" x="-4.45" y="0" xml:space="preserve">4</text></g>
<g transform="translate(419.70,462.60) scale(1.0,1)"><text class="lab2" x="-4.45" y="0" xml:space="preserve">3</text></g>
<g transform="translate(443.00,462.60) scale(1.0,1)"><text class="lab2" x="-4.45" y="0" xml:space="preserve">2</text></g>
<g transform="translate(467.40,462.60) scale(1.0,1)"><path d="M 714 0 L 530 0 L 530 1040 L 200 1040 L 200 1160 C 370 1170 490 1250 520 1409 L 714 1409 Z" fill="#231f20" transform="translate(-4.449,0) scale(0.007812,-0.007812)"/></g>
<rect x="312.70" y="468.70" width="160.90" height="1.4" fill="#231f20"/>
<text class="lab3" x="397.70" y="487.40" text-anchor="middle">R7 cells</text>
<text class="pl" transform="translate(41.2,566.6) scale(0.89,1)">c</text>
<rect x="116.60" y="553.60" width="2.2" height="215.20" fill="#231f20"/>
<rect x="116.70" y="767.70" width="320.55" height="2.2" fill="#231f20"/>
<rect x="114.00" y="696.40" width="7.2" height="2" fill="#231f20"/>
<rect x="223.05" y="765.60" width="2" height="6" fill="#231f20"/>
<g transform="translate(111.70,703.20) scale(1.0,1)"><text class="ax" x="-9.12" y="0" xml:space="preserve">5</text></g>
<g transform="translate(224.65,789.30) scale(1.0,1)"><text class="ax" x="-4.56" y="0" xml:space="preserve">5</text></g>
<rect x="114.00" y="625.00" width="7.2" height="2" fill="#231f20"/>
<rect x="329.40" y="765.60" width="2" height="6" fill="#231f20"/>
<g transform="translate(111.70,631.80) scale(1.0,1)"><path d="M 714 0 L 530 0 L 530 1040 L 200 1040 L 200 1160 C 370 1170 490 1250 520 1409 L 714 1409 Z" fill="#231f20" transform="translate(-18.242,0) scale(0.008008,-0.008008)"/><text class="ax" x="-9.12" y="0" xml:space="preserve">0</text></g>
<g transform="translate(331.00,789.30) scale(1.0,1)"><path d="M 714 0 L 530 0 L 530 1040 L 200 1040 L 200 1160 C 370 1170 490 1250 520 1409 L 714 1409 Z" fill="#231f20" transform="translate(-9.121,0) scale(0.008008,-0.008008)"/><text class="ax" x="0.00" y="0" xml:space="preserve">0</text></g>
<rect x="114.00" y="553.60" width="7.2" height="2" fill="#231f20"/>
<rect x="435.75" y="765.60" width="2" height="6" fill="#231f20"/>
<g transform="translate(111.70,560.40) scale(1.0,1)"><path d="M 714 0 L 530 0 L 530 1040 L 200 1040 L 200 1160 C 370 1170 490 1250 520 1409 L 714 1409 Z" fill="#231f20" transform="translate(-18.242,0) scale(0.008008,-0.008008)"/><text class="ax" x="-9.12" y="0" xml:space="preserve">5</text></g>
<g transform="translate(437.35,789.30) scale(1.0,1)"><path d="M 714 0 L 530 0 L 530 1040 L 200 1040 L 200 1160 C 370 1170 490 1250 520 1409 L 714 1409 Z" fill="#231f20" transform="translate(-9.121,0) scale(0.008008,-0.008008)"/><text class="ax" x="0.00" y="0" xml:space="preserve">5</text></g>
<text class="ax" x="113.40" y="779.80" text-anchor="end">0</text>
<circle cx="160.74" cy="740.94" r="4.6" fill="#231f20"/>
<circle cx="203.28" cy="655.26" r="4.6" fill="#231f20"/>
<circle cx="203.28" cy="683.82" r="4.6" fill="#231f20"/>
<circle cx="203.28" cy="712.38" r="4.6" fill="#231f20"/>
<circle cx="224.55" cy="640.98" r="4.6" fill="#231f20"/>
<circle cx="224.55" cy="683.82" r="4.6" fill="#231f20"/>
<circle cx="245.82" cy="626.70" r="4.6" fill="#231f20"/>
<circle cx="245.82" cy="640.98" r="4.6" fill="#231f20"/>
<circle cx="245.82" cy="655.26" r="4.6" fill="#231f20"/>
<circle cx="245.82" cy="669.54" r="4.6" fill="#231f20"/>
<circle cx="267.09" cy="640.98" r="4.6" fill="#231f20"/>
<circle cx="267.09" cy="669.54" r="4.6" fill="#231f20"/>
<circle cx="267.09" cy="698.10" r="4.6" fill="#231f20"/>
<circle cx="288.36" cy="583.86" r="4.6" fill="#231f20"/>
<circle cx="288.36" cy="640.98" r="4.6" fill="#231f20"/>
<circle cx="309.63" cy="598.14" r="4.6" fill="#231f20"/>
<circle cx="330.90" cy="655.26" r="4.6" fill="#231f20"/>
<ellipse cx="117.60" cy="768.80" rx="5.3" ry="5.0" fill="#231f20"/>
<text class="at" x="281.25" y="811.6" text-anchor="middle">Number of independent PCR</text>
<text class="at" transform="translate(81.2,662.75) rotate(-90)" text-anchor="middle">Different isoforms detected</text>
<g transform="translate(323.20,729.80) scale(1.0,1)"><text class="nn" x="0.00" y="0"><tspan font-style="italic">n</tspan> = 2</text><path d="M 714 0 L 530 0 L 530 1040 L 200 1040 L 200 1160 C 370 1170 490 1250 520 1409 L 714 1409 Z" fill="#231f20" transform="translate(37.382,0) scale(0.008105,-0.008105)"/><text class="nn" x="46.61" y="0" xml:space="preserve"> neurons</text></g>
</svg>
</body></html>
